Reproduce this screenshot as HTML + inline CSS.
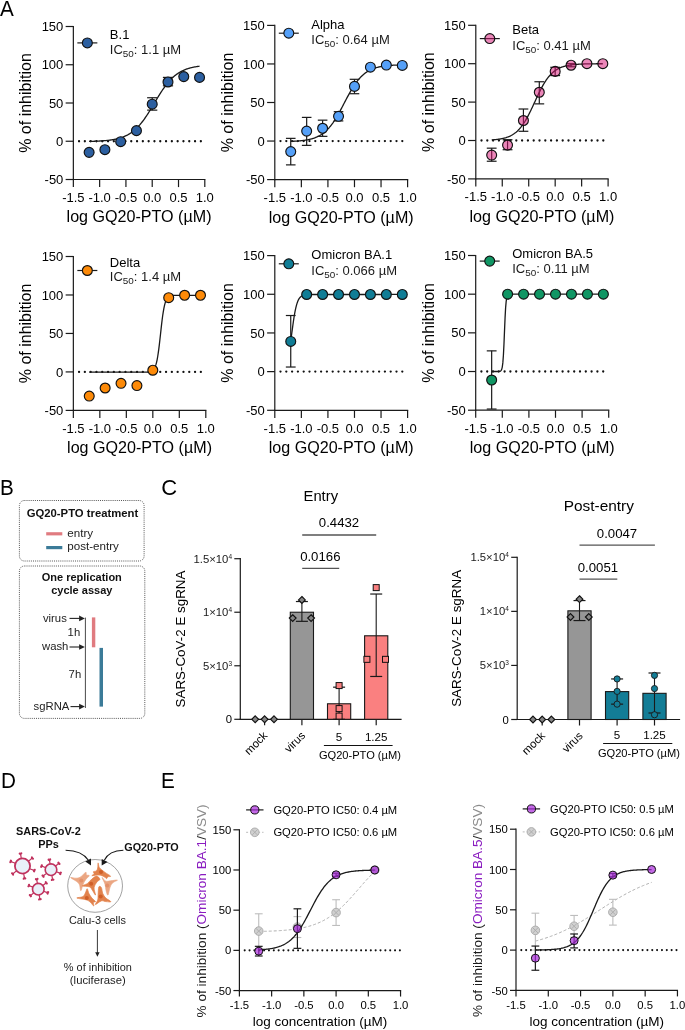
<!DOCTYPE html>
<html><head><meta charset="utf-8"><style>
html,body{margin:0;padding:0;background:#fff;}
svg{display:block;font-family:"Liberation Sans", sans-serif;will-change:transform;}
</style></head><body>
<svg width="685" height="1030" viewBox="0 0 685 1030">
<rect width="685" height="1030" fill="#fff"/>
<text x="0" y="0" font-size="22" transform="translate(0.00 15.50) scale(0.94 1)" fill="#000">A</text>
<line x1="73.35" y1="25.90" x2="73.35" y2="180.10" stroke="#1a1a1a" stroke-width="1.2" />
<line x1="72.75" y1="179.50" x2="205.40" y2="179.50" stroke="#1a1a1a" stroke-width="1.2" />
<line x1="65.65" y1="26.50" x2="73.35" y2="26.50" stroke="#1a1a1a" stroke-width="1.2" />
<text x="63.35" y="31.10" font-size="13.0" text-anchor="end" >150</text>
<line x1="65.65" y1="64.75" x2="73.35" y2="64.75" stroke="#1a1a1a" stroke-width="1.2" />
<text x="63.35" y="69.35" font-size="13.0" text-anchor="end" >100</text>
<line x1="65.65" y1="103.00" x2="73.35" y2="103.00" stroke="#1a1a1a" stroke-width="1.2" />
<text x="63.35" y="107.60" font-size="13.0" text-anchor="end" >50</text>
<line x1="65.65" y1="141.25" x2="73.35" y2="141.25" stroke="#1a1a1a" stroke-width="1.2" />
<text x="63.35" y="145.85" font-size="13.0" text-anchor="end" >0</text>
<line x1="65.65" y1="179.50" x2="73.35" y2="179.50" stroke="#1a1a1a" stroke-width="1.2" />
<text x="63.35" y="184.10" font-size="13.0" text-anchor="end" >-50</text>
<line x1="73.35" y1="179.50" x2="73.35" y2="187.10" stroke="#1a1a1a" stroke-width="1.2" />
<text x="73.35" y="202.00" font-size="13.0" text-anchor="middle" >-1.5</text>
<line x1="99.64" y1="179.50" x2="99.64" y2="187.10" stroke="#1a1a1a" stroke-width="1.2" />
<text x="99.64" y="202.00" font-size="13.0" text-anchor="middle" >-1.0</text>
<line x1="125.93" y1="179.50" x2="125.93" y2="187.10" stroke="#1a1a1a" stroke-width="1.2" />
<text x="125.93" y="202.00" font-size="13.0" text-anchor="middle" >-0.5</text>
<line x1="152.22" y1="179.50" x2="152.22" y2="187.10" stroke="#1a1a1a" stroke-width="1.2" />
<text x="152.22" y="202.00" font-size="13.0" text-anchor="middle" >0.0</text>
<line x1="178.51" y1="179.50" x2="178.51" y2="187.10" stroke="#1a1a1a" stroke-width="1.2" />
<text x="178.51" y="202.00" font-size="13.0" text-anchor="middle" >0.5</text>
<line x1="204.80" y1="179.50" x2="204.80" y2="187.10" stroke="#1a1a1a" stroke-width="1.2" />
<text x="204.80" y="202.00" font-size="13.0" text-anchor="middle" >1.0</text>
<text x="31.35" y="103.00" font-size="16.0" text-anchor="middle" transform="rotate(-90 31.35 103.00)" >% of inhibition</text>
<text x="139.07" y="222.40" font-size="16.1" text-anchor="middle" >log GQ20-PTO (&#181;M)</text>
<line x1="79.05" y1="141.25" x2="202.17" y2="141.25" stroke="#111" stroke-width="2.3" stroke-linecap="round" stroke-dasharray="0 5.8"/>
<polyline points="89.12,141.40 89.68,141.38 90.23,141.37 90.78,141.36 91.33,141.34 91.88,141.33 92.44,141.31 92.99,141.29 93.54,141.28 94.09,141.26 94.64,141.24 95.20,141.22 95.75,141.20 96.30,141.18 96.85,141.15 97.41,141.13 97.96,141.10 98.51,141.08 99.06,141.05 99.61,141.02 100.17,140.99 100.72,140.95 101.27,140.92 101.82,140.88 102.37,140.85 102.93,140.81 103.48,140.77 104.03,140.72 104.58,140.68 105.13,140.63 105.69,140.58 106.24,140.53 106.79,140.47 107.34,140.41 107.90,140.35 108.45,140.29 109.00,140.23 109.55,140.16 110.10,140.08 110.66,140.01 111.21,139.93 111.76,139.84 112.31,139.76 112.86,139.67 113.42,139.57 113.97,139.47 114.52,139.37 115.07,139.26 115.62,139.14 116.18,139.02 116.73,138.90 117.28,138.76 117.83,138.63 118.38,138.48 118.94,138.33 119.49,138.18 120.04,138.01 120.59,137.84 121.15,137.66 121.70,137.48 122.25,137.28 122.80,137.08 123.35,136.86 123.91,136.64 124.46,136.41 125.01,136.17 125.56,135.92 126.11,135.66 126.67,135.39 127.22,135.10 127.77,134.81 128.32,134.50 128.87,134.18 129.43,133.85 129.98,133.50 130.53,133.14 131.08,132.77 131.63,132.38 132.19,131.98 132.74,131.56 133.29,131.13 133.84,130.69 134.40,130.22 134.95,129.74 135.50,129.25 136.05,128.74 136.60,128.21 137.16,127.67 137.71,127.10 138.26,126.53 138.81,125.93 139.36,125.32 139.92,124.69 140.47,124.04 141.02,123.37 141.57,122.69 142.12,121.99 142.68,121.27 143.23,120.54 143.78,119.79 144.33,119.03 144.89,118.25 145.44,117.46 145.99,116.65 146.54,115.82 147.09,114.99 147.65,114.14 148.20,113.28 148.75,112.41 149.30,111.53 149.85,110.64 150.41,109.74 150.96,108.83 151.51,107.92 152.06,107.00 152.61,106.08 153.17,105.15 153.72,104.23 154.27,103.30 154.82,102.37 155.37,101.44 155.93,100.51 156.48,99.59 157.03,98.67 157.58,97.76 158.14,96.85 158.69,95.95 159.24,95.06 159.79,94.18 160.34,93.30 160.90,92.44 161.45,91.59 162.00,90.75 162.55,89.93 163.10,89.11 163.66,88.32 164.21,87.54 164.76,86.77 165.31,86.02 165.86,85.28 166.42,84.56 166.97,83.86 167.52,83.17 168.07,82.51 168.62,81.85 169.18,81.22 169.73,80.60 170.28,80.00 170.83,79.42 171.39,78.86 171.94,78.31 172.49,77.78 173.04,77.26 173.59,76.77 174.15,76.28 174.70,75.82 175.25,75.37 175.80,74.94 176.35,74.52 176.91,74.11 177.46,73.72 178.01,73.35 178.56,72.98 179.11,72.64 179.67,72.30 180.22,71.98 180.77,71.67 181.32,71.37 181.88,71.09 182.43,70.81 182.98,70.55 183.53,70.29 184.08,70.05 184.64,69.82 185.19,69.59 185.74,69.38 186.29,69.17 186.84,68.98 187.40,68.79 187.95,68.61 188.50,68.44 189.05,68.27 189.60,68.11 190.16,67.96 190.71,67.82 191.26,67.68 191.81,67.55 192.36,67.42 192.92,67.30 193.47,67.18 194.02,67.07 194.57,66.97 195.13,66.87 195.68,66.77 196.23,66.68 196.78,66.59 197.33,66.50 197.89,66.42 198.44,66.35 198.99,66.27 199.54,66.21" fill="none" stroke="#1a1a1a" stroke-width="1.3"/>
<line x1="152.22" y1="97.74" x2="152.22" y2="110.13" stroke="#1a1a1a" stroke-width="1.2" />
<line x1="147.12" y1="97.74" x2="157.32" y2="97.74" stroke="#1a1a1a" stroke-width="1.2" />
<line x1="147.12" y1="110.13" x2="157.32" y2="110.13" stroke="#1a1a1a" stroke-width="1.2" />
<line x1="167.99" y1="77.39" x2="167.99" y2="85.81" stroke="#1a1a1a" stroke-width="1.2" />
<line x1="162.89" y1="77.39" x2="173.09" y2="77.39" stroke="#1a1a1a" stroke-width="1.2" />
<line x1="162.89" y1="85.81" x2="173.09" y2="85.81" stroke="#1a1a1a" stroke-width="1.2" />
<circle cx="89.12" cy="152.36" r="4.95" fill="#2c5fa0" stroke="#111" stroke-width="1.15"/>
<circle cx="104.90" cy="149.68" r="4.95" fill="#2c5fa0" stroke="#111" stroke-width="1.15"/>
<circle cx="120.67" cy="141.65" r="4.95" fill="#2c5fa0" stroke="#111" stroke-width="1.15"/>
<circle cx="136.45" cy="130.63" r="4.95" fill="#2c5fa0" stroke="#111" stroke-width="1.15"/>
<circle cx="152.22" cy="104.17" r="4.95" fill="#2c5fa0" stroke="#111" stroke-width="1.15"/>
<circle cx="167.99" cy="81.98" r="4.95" fill="#2c5fa0" stroke="#111" stroke-width="1.15"/>
<circle cx="183.77" cy="76.62" r="4.95" fill="#2c5fa0" stroke="#111" stroke-width="1.15"/>
<circle cx="199.54" cy="77.39" r="4.95" fill="#2c5fa0" stroke="#111" stroke-width="1.15"/>
<line x1="77.35" y1="42.90" x2="97.35" y2="42.90" stroke="#1a1a1a" stroke-width="1.2" />
<circle cx="87.35" cy="42.90" r="4.95" fill="#2c5fa0" stroke="#111" stroke-width="1.15"/>
<text x="109.85" y="38.60" font-size="13" text-anchor="start" >B.1</text>
<text x="109.85" y="53.90" font-size="13" fill="#1a1a1a">IC<tspan font-size="9.9" dy="3.0">50</tspan><tspan dy="-3.0">: 1.1 &#181;M</tspan></text>
<line x1="274.80" y1="24.80" x2="274.80" y2="180.20" stroke="#1a1a1a" stroke-width="1.2" />
<line x1="274.20" y1="179.60" x2="408.20" y2="179.60" stroke="#1a1a1a" stroke-width="1.2" />
<line x1="267.10" y1="25.40" x2="274.80" y2="25.40" stroke="#1a1a1a" stroke-width="1.2" />
<text x="264.80" y="30.00" font-size="13.0" text-anchor="end" >150</text>
<line x1="267.10" y1="63.95" x2="274.80" y2="63.95" stroke="#1a1a1a" stroke-width="1.2" />
<text x="264.80" y="68.55" font-size="13.0" text-anchor="end" >100</text>
<line x1="267.10" y1="102.50" x2="274.80" y2="102.50" stroke="#1a1a1a" stroke-width="1.2" />
<text x="264.80" y="107.10" font-size="13.0" text-anchor="end" >50</text>
<line x1="267.10" y1="141.05" x2="274.80" y2="141.05" stroke="#1a1a1a" stroke-width="1.2" />
<text x="264.80" y="145.65" font-size="13.0" text-anchor="end" >0</text>
<line x1="267.10" y1="179.60" x2="274.80" y2="179.60" stroke="#1a1a1a" stroke-width="1.2" />
<text x="264.80" y="184.20" font-size="13.0" text-anchor="end" >-50</text>
<line x1="274.80" y1="179.60" x2="274.80" y2="187.20" stroke="#1a1a1a" stroke-width="1.2" />
<text x="274.80" y="202.10" font-size="13.0" text-anchor="middle" >-1.5</text>
<line x1="301.36" y1="179.60" x2="301.36" y2="187.20" stroke="#1a1a1a" stroke-width="1.2" />
<text x="301.36" y="202.10" font-size="13.0" text-anchor="middle" >-1.0</text>
<line x1="327.92" y1="179.60" x2="327.92" y2="187.20" stroke="#1a1a1a" stroke-width="1.2" />
<text x="327.92" y="202.10" font-size="13.0" text-anchor="middle" >-0.5</text>
<line x1="354.48" y1="179.60" x2="354.48" y2="187.20" stroke="#1a1a1a" stroke-width="1.2" />
<text x="354.48" y="202.10" font-size="13.0" text-anchor="middle" >0.0</text>
<line x1="381.04" y1="179.60" x2="381.04" y2="187.20" stroke="#1a1a1a" stroke-width="1.2" />
<text x="381.04" y="202.10" font-size="13.0" text-anchor="middle" >0.5</text>
<line x1="407.60" y1="179.60" x2="407.60" y2="187.20" stroke="#1a1a1a" stroke-width="1.2" />
<text x="407.60" y="202.10" font-size="13.0" text-anchor="middle" >1.0</text>
<text x="232.80" y="102.50" font-size="16.0" text-anchor="middle" transform="rotate(-90 232.80 102.50)" >% of inhibition</text>
<text x="341.20" y="222.50" font-size="16.1" text-anchor="middle" >log GQ20-PTO (&#181;M)</text>
<line x1="280.50" y1="141.05" x2="404.94" y2="141.05" stroke="#111" stroke-width="2.3" stroke-linecap="round" stroke-dasharray="0 5.8"/>
<polyline points="290.74,141.38 291.29,141.36 291.85,141.33 292.41,141.31 292.97,141.29 293.52,141.26 294.08,141.23 294.64,141.20 295.20,141.17 295.76,141.14 296.31,141.10 296.87,141.07 297.43,141.03 297.99,140.99 298.54,140.94 299.10,140.90 299.66,140.85 300.22,140.80 300.78,140.74 301.33,140.69 301.89,140.63 302.45,140.57 303.01,140.50 303.56,140.43 304.12,140.35 304.68,140.28 305.24,140.19 305.80,140.11 306.35,140.01 306.91,139.92 307.47,139.81 308.03,139.71 308.58,139.59 309.14,139.47 309.70,139.35 310.26,139.21 310.82,139.08 311.37,138.93 311.93,138.77 312.49,138.61 313.05,138.44 313.60,138.26 314.16,138.07 314.72,137.87 315.28,137.66 315.84,137.43 316.39,137.20 316.95,136.96 317.51,136.70 318.07,136.43 318.62,136.15 319.18,135.86 319.74,135.55 320.30,135.22 320.86,134.88 321.41,134.53 321.97,134.15 322.53,133.76 323.09,133.36 323.64,132.93 324.20,132.49 324.76,132.03 325.32,131.54 325.87,131.04 326.43,130.52 326.99,129.97 327.55,129.41 328.11,128.82 328.66,128.21 329.22,127.58 329.78,126.92 330.34,126.25 330.89,125.55 331.45,124.82 332.01,124.08 332.57,123.31 333.13,122.52 333.68,121.70 334.24,120.87 334.80,120.01 335.36,119.13 335.91,118.23 336.47,117.31 337.03,116.38 337.59,115.42 338.15,114.45 338.70,113.46 339.26,112.46 339.82,111.44 340.38,110.41 340.93,109.37 341.49,108.32 342.05,107.27 342.61,106.21 343.17,105.14 343.72,104.07 344.28,103.00 344.84,101.92 345.40,100.86 345.95,99.79 346.51,98.73 347.07,97.67 347.63,96.63 348.19,95.59 348.74,94.57 349.30,93.56 349.86,92.56 350.42,91.58 350.97,90.61 351.53,89.66 352.09,88.73 352.65,87.82 353.21,86.93 353.76,86.06 354.32,85.21 354.88,84.38 355.44,83.58 355.99,82.80 356.55,82.04 357.11,81.30 357.67,80.58 358.22,79.89 358.78,79.22 359.34,78.58 359.90,77.95 360.46,77.35 361.01,76.77 361.57,76.22 362.13,75.68 362.69,75.17 363.24,74.67 363.80,74.20 364.36,73.74 364.92,73.30 365.48,72.89 366.03,72.49 366.59,72.10 367.15,71.74 367.71,71.39 368.26,71.05 368.82,70.73 369.38,70.43 369.94,70.14 370.50,69.86 371.05,69.60 371.61,69.35 372.17,69.11 372.73,68.88 373.28,68.66 373.84,68.46 374.40,68.26 374.96,68.07 375.52,67.90 376.07,67.73 376.63,67.57 377.19,67.42 377.75,67.27 378.30,67.13 378.86,67.00 379.42,66.88 379.98,66.76 380.54,66.65 381.09,66.55 381.65,66.45 382.21,66.35 382.77,66.26 383.32,66.18 383.88,66.09 384.44,66.02 385.00,65.94 385.56,65.88 386.11,65.81 386.67,65.75 387.23,65.69 387.79,65.63 388.34,65.58 388.90,65.53 389.46,65.48 390.02,65.44 390.58,65.40 391.13,65.36 391.69,65.32 392.25,65.28 392.81,65.25 393.36,65.22 393.92,65.19 394.48,65.16 395.04,65.13 395.59,65.11 396.15,65.08 396.71,65.06 397.27,65.04 397.83,65.01 398.38,65.00 398.94,64.98 399.50,64.96 400.06,64.94 400.61,64.93 401.17,64.91 401.73,64.90 402.29,64.88" fill="none" stroke="#1a1a1a" stroke-width="1.3"/>
<line x1="290.74" y1="138.36" x2="290.74" y2="164.88" stroke="#1a1a1a" stroke-width="1.2" />
<line x1="285.94" y1="138.36" x2="295.54" y2="138.36" stroke="#1a1a1a" stroke-width="1.2" />
<line x1="285.94" y1="164.88" x2="295.54" y2="164.88" stroke="#1a1a1a" stroke-width="1.2" />
<line x1="306.67" y1="117.39" x2="306.67" y2="145.37" stroke="#1a1a1a" stroke-width="1.2" />
<line x1="301.87" y1="117.39" x2="311.47" y2="117.39" stroke="#1a1a1a" stroke-width="1.2" />
<line x1="301.87" y1="145.37" x2="311.47" y2="145.37" stroke="#1a1a1a" stroke-width="1.2" />
<line x1="322.61" y1="120.16" x2="322.61" y2="136.35" stroke="#1a1a1a" stroke-width="1.2" />
<line x1="317.81" y1="120.16" x2="327.41" y2="120.16" stroke="#1a1a1a" stroke-width="1.2" />
<line x1="317.81" y1="136.35" x2="327.41" y2="136.35" stroke="#1a1a1a" stroke-width="1.2" />
<line x1="338.54" y1="111.68" x2="338.54" y2="120.93" stroke="#1a1a1a" stroke-width="1.2" />
<line x1="333.74" y1="111.68" x2="343.34" y2="111.68" stroke="#1a1a1a" stroke-width="1.2" />
<line x1="333.74" y1="120.93" x2="343.34" y2="120.93" stroke="#1a1a1a" stroke-width="1.2" />
<line x1="354.48" y1="79.30" x2="354.48" y2="93.72" stroke="#1a1a1a" stroke-width="1.2" />
<line x1="349.68" y1="79.30" x2="359.28" y2="79.30" stroke="#1a1a1a" stroke-width="1.2" />
<line x1="349.68" y1="93.72" x2="359.28" y2="93.72" stroke="#1a1a1a" stroke-width="1.2" />
<circle cx="290.74" cy="151.54" r="4.95" fill="#55a0f8" stroke="#111" stroke-width="1.15"/>
<circle cx="306.67" cy="131.11" r="4.95" fill="#55a0f8" stroke="#111" stroke-width="1.15"/>
<circle cx="322.61" cy="128.26" r="4.95" fill="#55a0f8" stroke="#111" stroke-width="1.15"/>
<circle cx="338.54" cy="116.31" r="4.95" fill="#55a0f8" stroke="#111" stroke-width="1.15"/>
<circle cx="354.48" cy="86.39" r="4.95" fill="#55a0f8" stroke="#111" stroke-width="1.15"/>
<circle cx="370.42" cy="67.19" r="4.95" fill="#55a0f8" stroke="#111" stroke-width="1.15"/>
<circle cx="386.35" cy="65.04" r="4.95" fill="#55a0f8" stroke="#111" stroke-width="1.15"/>
<circle cx="402.29" cy="65.42" r="4.95" fill="#55a0f8" stroke="#111" stroke-width="1.15"/>
<line x1="278.80" y1="33.20" x2="298.80" y2="33.20" stroke="#1a1a1a" stroke-width="1.2" />
<circle cx="288.80" cy="33.20" r="4.95" fill="#55a0f8" stroke="#111" stroke-width="1.15"/>
<text x="311.30" y="28.80" font-size="13" text-anchor="start" >Alpha</text>
<text x="311.30" y="43.60" font-size="13" fill="#1a1a1a">IC<tspan font-size="9.9" dy="3.0">50</tspan><tspan dy="-3.0">: 0.64 &#181;M</tspan></text>
<line x1="475.80" y1="24.70" x2="475.80" y2="179.50" stroke="#1a1a1a" stroke-width="1.2" />
<line x1="475.20" y1="178.90" x2="608.70" y2="178.90" stroke="#1a1a1a" stroke-width="1.2" />
<line x1="468.10" y1="25.30" x2="475.80" y2="25.30" stroke="#1a1a1a" stroke-width="1.2" />
<text x="465.80" y="29.90" font-size="13.0" text-anchor="end" >150</text>
<line x1="468.10" y1="63.70" x2="475.80" y2="63.70" stroke="#1a1a1a" stroke-width="1.2" />
<text x="465.80" y="68.30" font-size="13.0" text-anchor="end" >100</text>
<line x1="468.10" y1="102.10" x2="475.80" y2="102.10" stroke="#1a1a1a" stroke-width="1.2" />
<text x="465.80" y="106.70" font-size="13.0" text-anchor="end" >50</text>
<line x1="468.10" y1="140.50" x2="475.80" y2="140.50" stroke="#1a1a1a" stroke-width="1.2" />
<text x="465.80" y="145.10" font-size="13.0" text-anchor="end" >0</text>
<line x1="468.10" y1="178.90" x2="475.80" y2="178.90" stroke="#1a1a1a" stroke-width="1.2" />
<text x="465.80" y="183.50" font-size="13.0" text-anchor="end" >-50</text>
<line x1="475.80" y1="178.90" x2="475.80" y2="186.50" stroke="#1a1a1a" stroke-width="1.2" />
<text x="475.80" y="201.40" font-size="13.0" text-anchor="middle" >-1.5</text>
<line x1="502.26" y1="178.90" x2="502.26" y2="186.50" stroke="#1a1a1a" stroke-width="1.2" />
<text x="502.26" y="201.40" font-size="13.0" text-anchor="middle" >-1.0</text>
<line x1="528.72" y1="178.90" x2="528.72" y2="186.50" stroke="#1a1a1a" stroke-width="1.2" />
<text x="528.72" y="201.40" font-size="13.0" text-anchor="middle" >-0.5</text>
<line x1="555.18" y1="178.90" x2="555.18" y2="186.50" stroke="#1a1a1a" stroke-width="1.2" />
<text x="555.18" y="201.40" font-size="13.0" text-anchor="middle" >0.0</text>
<line x1="581.64" y1="178.90" x2="581.64" y2="186.50" stroke="#1a1a1a" stroke-width="1.2" />
<text x="581.64" y="201.40" font-size="13.0" text-anchor="middle" >0.5</text>
<line x1="608.10" y1="178.90" x2="608.10" y2="186.50" stroke="#1a1a1a" stroke-width="1.2" />
<text x="608.10" y="201.40" font-size="13.0" text-anchor="middle" >1.0</text>
<text x="433.80" y="102.10" font-size="16.0" text-anchor="middle" transform="rotate(-90 433.80 102.10)" >% of inhibition</text>
<text x="541.95" y="221.80" font-size="16.1" text-anchor="middle" >log GQ20-PTO (&#181;M)</text>
<line x1="481.50" y1="140.50" x2="605.45" y2="140.50" stroke="#111" stroke-width="2.3" stroke-linecap="round" stroke-dasharray="0 5.8"/>
<polyline points="491.68,139.91 492.23,139.88 492.79,139.84 493.34,139.79 493.90,139.75 494.45,139.70 495.01,139.65 495.57,139.59 496.12,139.54 496.68,139.47 497.23,139.41 497.79,139.34 498.34,139.26 498.90,139.18 499.46,139.10 500.01,139.01 500.57,138.92 501.12,138.82 501.68,138.71 502.23,138.60 502.79,138.48 503.34,138.35 503.90,138.21 504.46,138.07 505.01,137.92 505.57,137.76 506.12,137.59 506.68,137.40 507.23,137.21 507.79,137.01 508.35,136.79 508.90,136.56 509.46,136.32 510.01,136.07 510.57,135.80 511.12,135.51 511.68,135.21 512.24,134.89 512.79,134.56 513.35,134.20 513.90,133.83 514.46,133.44 515.01,133.02 515.57,132.59 516.13,132.13 516.68,131.65 517.24,131.15 517.79,130.62 518.35,130.06 518.90,129.48 519.46,128.88 520.01,128.24 520.57,127.58 521.13,126.89 521.68,126.17 522.24,125.43 522.79,124.65 523.35,123.85 523.90,123.01 524.46,122.15 525.02,121.26 525.57,120.34 526.13,119.39 526.68,118.41 527.24,117.41 527.79,116.38 528.35,115.33 528.91,114.25 529.46,113.16 530.02,112.04 530.57,110.91 531.13,109.75 531.68,108.59 532.24,107.41 532.79,106.22 533.35,105.03 533.91,103.82 534.46,102.62 535.02,101.41 535.57,100.20 536.13,99.00 536.68,97.81 537.24,96.62 537.80,95.44 538.35,94.28 538.91,93.13 539.46,92.00 540.02,90.88 540.57,89.79 541.13,88.72 541.69,87.67 542.24,86.65 542.80,85.65 543.35,84.68 543.91,83.73 544.46,82.81 545.02,81.93 545.58,81.07 546.13,80.24 546.69,79.44 547.24,78.66 547.80,77.92 548.35,77.21 548.91,76.52 549.46,75.86 550.02,75.23 550.58,74.63 551.13,74.06 551.69,73.50 552.24,72.98 552.80,72.48 553.35,72.00 553.91,71.55 554.47,71.12 555.02,70.71 555.58,70.32 556.13,69.94 556.69,69.59 557.24,69.26 557.80,68.94 558.36,68.65 558.91,68.36 559.47,68.10 560.02,67.84 560.58,67.60 561.13,67.38 561.69,67.16 562.24,66.96 562.80,66.77 563.36,66.59 563.91,66.42 564.47,66.26 565.02,66.11 565.58,65.97 566.13,65.83 566.69,65.71 567.25,65.59 567.80,65.47 568.36,65.37 568.91,65.27 569.47,65.17 570.02,65.09 570.58,65.00 571.14,64.93 571.69,64.85 572.25,64.78 572.80,64.72 573.36,64.66 573.91,64.60 574.47,64.54 575.02,64.49 575.58,64.45 576.14,64.40 576.69,64.36 577.25,64.32 577.80,64.28 578.36,64.25 578.91,64.21 579.47,64.18 580.03,64.15 580.58,64.13 581.14,64.10 581.69,64.08 582.25,64.05 582.80,64.03 583.36,64.01 583.92,63.99 584.47,63.97 585.03,63.96 585.58,63.94 586.14,63.93 586.69,63.91 587.25,63.90 587.81,63.89 588.36,63.88 588.92,63.87 589.47,63.86 590.03,63.85 590.58,63.84 591.14,63.83 591.69,63.82 592.25,63.81 592.81,63.81 593.36,63.80 593.92,63.79 594.47,63.79 595.03,63.78 595.58,63.78 596.14,63.77 596.70,63.77 597.25,63.76 597.81,63.76 598.36,63.76 598.92,63.75 599.47,63.75 600.03,63.75 600.59,63.74 601.14,63.74 601.70,63.74 602.25,63.74 602.81,63.73" fill="none" stroke="#1a1a1a" stroke-width="1.3"/>
<line x1="491.68" y1="148.18" x2="491.68" y2="161.24" stroke="#1a1a1a" stroke-width="1.2" />
<line x1="486.78" y1="148.18" x2="496.58" y2="148.18" stroke="#1a1a1a" stroke-width="1.2" />
<line x1="486.78" y1="161.24" x2="496.58" y2="161.24" stroke="#1a1a1a" stroke-width="1.2" />
<line x1="507.55" y1="139.73" x2="507.55" y2="149.72" stroke="#1a1a1a" stroke-width="1.2" />
<line x1="502.65" y1="139.73" x2="512.45" y2="139.73" stroke="#1a1a1a" stroke-width="1.2" />
<line x1="502.65" y1="149.72" x2="512.45" y2="149.72" stroke="#1a1a1a" stroke-width="1.2" />
<line x1="523.43" y1="109.01" x2="523.43" y2="131.28" stroke="#1a1a1a" stroke-width="1.2" />
<line x1="518.53" y1="109.01" x2="528.33" y2="109.01" stroke="#1a1a1a" stroke-width="1.2" />
<line x1="518.53" y1="131.28" x2="528.33" y2="131.28" stroke="#1a1a1a" stroke-width="1.2" />
<line x1="539.30" y1="81.75" x2="539.30" y2="103.87" stroke="#1a1a1a" stroke-width="1.2" />
<line x1="534.40" y1="81.75" x2="544.20" y2="81.75" stroke="#1a1a1a" stroke-width="1.2" />
<line x1="534.40" y1="103.87" x2="544.20" y2="103.87" stroke="#1a1a1a" stroke-width="1.2" />
<line x1="555.18" y1="67.31" x2="555.18" y2="75.60" stroke="#1a1a1a" stroke-width="1.2" />
<line x1="550.28" y1="67.31" x2="560.08" y2="67.31" stroke="#1a1a1a" stroke-width="1.2" />
<line x1="550.28" y1="75.60" x2="560.08" y2="75.60" stroke="#1a1a1a" stroke-width="1.2" />
<line x1="571.06" y1="63.70" x2="571.06" y2="66.77" stroke="#1a1a1a" stroke-width="1.2" />
<line x1="566.16" y1="63.70" x2="575.96" y2="63.70" stroke="#1a1a1a" stroke-width="1.2" />
<line x1="566.16" y1="66.77" x2="575.96" y2="66.77" stroke="#1a1a1a" stroke-width="1.2" />
<circle cx="491.68" cy="155.09" r="4.95" fill="rgb(216,20,118)" fill-opacity="0.51" stroke="#111" stroke-width="1.15"/>
<circle cx="507.55" cy="145.11" r="4.95" fill="rgb(216,20,118)" fill-opacity="0.51" stroke="#111" stroke-width="1.15"/>
<circle cx="523.43" cy="120.53" r="4.95" fill="rgb(216,20,118)" fill-opacity="0.51" stroke="#111" stroke-width="1.15"/>
<circle cx="539.30" cy="92.27" r="4.95" fill="rgb(216,20,118)" fill-opacity="0.51" stroke="#111" stroke-width="1.15"/>
<circle cx="555.18" cy="71.38" r="4.95" fill="rgb(216,20,118)" fill-opacity="0.51" stroke="#111" stroke-width="1.15"/>
<circle cx="571.06" cy="65.24" r="4.95" fill="rgb(216,20,118)" fill-opacity="0.51" stroke="#111" stroke-width="1.15"/>
<circle cx="586.93" cy="63.70" r="4.95" fill="rgb(216,20,118)" fill-opacity="0.51" stroke="#111" stroke-width="1.15"/>
<circle cx="602.81" cy="63.70" r="4.95" fill="rgb(216,20,118)" fill-opacity="0.51" stroke="#111" stroke-width="1.15"/>
<line x1="479.80" y1="38.60" x2="499.80" y2="38.60" stroke="#1a1a1a" stroke-width="1.2" />
<circle cx="489.80" cy="38.60" r="4.95" fill="rgb(216,20,118)" fill-opacity="0.51" stroke="#111" stroke-width="1.15"/>
<text x="512.30" y="34.40" font-size="13" text-anchor="start" >Beta</text>
<text x="512.30" y="49.70" font-size="13" fill="#1a1a1a">IC<tspan font-size="9.9" dy="3.0">50</tspan><tspan dy="-3.0">: 0.41 &#181;M</tspan></text>
<line x1="73.35" y1="255.90" x2="73.35" y2="411.00" stroke="#1a1a1a" stroke-width="1.2" />
<line x1="72.75" y1="410.40" x2="206.40" y2="410.40" stroke="#1a1a1a" stroke-width="1.2" />
<line x1="65.65" y1="256.50" x2="73.35" y2="256.50" stroke="#1a1a1a" stroke-width="1.2" />
<text x="63.35" y="261.10" font-size="13.0" text-anchor="end" >150</text>
<line x1="65.65" y1="294.98" x2="73.35" y2="294.98" stroke="#1a1a1a" stroke-width="1.2" />
<text x="63.35" y="299.58" font-size="13.0" text-anchor="end" >100</text>
<line x1="65.65" y1="333.45" x2="73.35" y2="333.45" stroke="#1a1a1a" stroke-width="1.2" />
<text x="63.35" y="338.05" font-size="13.0" text-anchor="end" >50</text>
<line x1="65.65" y1="371.92" x2="73.35" y2="371.92" stroke="#1a1a1a" stroke-width="1.2" />
<text x="63.35" y="376.52" font-size="13.0" text-anchor="end" >0</text>
<line x1="65.65" y1="410.40" x2="73.35" y2="410.40" stroke="#1a1a1a" stroke-width="1.2" />
<text x="63.35" y="415.00" font-size="13.0" text-anchor="end" >-50</text>
<line x1="73.35" y1="410.40" x2="73.35" y2="418.00" stroke="#1a1a1a" stroke-width="1.2" />
<text x="73.35" y="432.90" font-size="13.0" text-anchor="middle" >-1.5</text>
<line x1="99.84" y1="410.40" x2="99.84" y2="418.00" stroke="#1a1a1a" stroke-width="1.2" />
<text x="99.84" y="432.90" font-size="13.0" text-anchor="middle" >-1.0</text>
<line x1="126.33" y1="410.40" x2="126.33" y2="418.00" stroke="#1a1a1a" stroke-width="1.2" />
<text x="126.33" y="432.90" font-size="13.0" text-anchor="middle" >-0.5</text>
<line x1="152.82" y1="410.40" x2="152.82" y2="418.00" stroke="#1a1a1a" stroke-width="1.2" />
<text x="152.82" y="432.90" font-size="13.0" text-anchor="middle" >0.0</text>
<line x1="179.31" y1="410.40" x2="179.31" y2="418.00" stroke="#1a1a1a" stroke-width="1.2" />
<text x="179.31" y="432.90" font-size="13.0" text-anchor="middle" >0.5</text>
<line x1="205.80" y1="410.40" x2="205.80" y2="418.00" stroke="#1a1a1a" stroke-width="1.2" />
<text x="205.80" y="432.90" font-size="13.0" text-anchor="middle" >1.0</text>
<text x="31.35" y="333.45" font-size="16.0" text-anchor="middle" transform="rotate(-90 31.35 333.45)" >% of inhibition</text>
<text x="139.57" y="453.30" font-size="16.1" text-anchor="middle" >log GQ20-PTO (&#181;M)</text>
<line x1="79.05" y1="371.92" x2="203.15" y2="371.92" stroke="#111" stroke-width="2.3" stroke-linecap="round" stroke-dasharray="0 5.8"/>
<polyline points="89.24,372.22 89.80,372.22 90.36,372.22 90.91,372.22 91.47,372.22 92.03,372.22 92.58,372.22 93.14,372.22 93.69,372.22 94.25,372.22 94.81,372.22 95.36,372.22 95.92,372.22 96.48,372.22 97.03,372.22 97.59,372.22 98.14,372.22 98.70,372.22 99.26,372.22 99.81,372.22 100.37,372.22 100.93,372.22 101.48,372.22 102.04,372.22 102.59,372.22 103.15,372.22 103.71,372.22 104.26,372.22 104.82,372.22 105.38,372.22 105.93,372.22 106.49,372.22 107.05,372.22 107.60,372.22 108.16,372.22 108.71,372.22 109.27,372.22 109.83,372.22 110.38,372.22 110.94,372.22 111.50,372.22 112.05,372.22 112.61,372.22 113.16,372.22 113.72,372.22 114.28,372.22 114.83,372.22 115.39,372.22 115.95,372.22 116.50,372.22 117.06,372.22 117.61,372.22 118.17,372.22 118.73,372.22 119.28,372.22 119.84,372.22 120.40,372.22 120.95,372.22 121.51,372.22 122.07,372.22 122.62,372.22 123.18,372.22 123.73,372.22 124.29,372.22 124.85,372.22 125.40,372.22 125.96,372.22 126.52,372.22 127.07,372.22 127.63,372.22 128.18,372.22 128.74,372.22 129.30,372.22 129.85,372.22 130.41,372.22 130.97,372.22 131.52,372.22 132.08,372.22 132.63,372.22 133.19,372.22 133.75,372.22 134.30,372.22 134.86,372.22 135.42,372.22 135.97,372.22 136.53,372.22 137.08,372.22 137.64,372.22 138.20,372.22 138.75,372.22 139.31,372.22 139.87,372.22 140.42,372.22 140.98,372.22 141.54,372.22 142.09,372.21 142.65,372.21 143.20,372.21 143.76,372.20 144.32,372.19 144.87,372.18 145.43,372.17 145.99,372.15 146.54,372.13 147.10,372.10 147.65,372.06 148.21,372.02 148.77,371.95 149.32,371.87 149.88,371.76 150.44,371.62 150.99,371.44 151.55,371.20 152.10,370.89 152.66,370.50 153.22,369.99 153.77,369.33 154.33,368.49 154.89,367.43 155.44,366.08 156.00,364.40 156.56,362.32 157.11,359.79 157.67,356.76 158.22,353.22 158.78,349.16 159.34,344.65 159.89,339.79 160.45,334.72 161.01,329.62 161.56,324.67 162.12,320.01 162.67,315.77 163.23,312.03 163.79,308.80 164.34,306.09 164.90,303.84 165.46,302.02 166.01,300.55 166.57,299.39 167.12,298.47 167.68,297.74 168.24,297.18 168.79,296.75 169.35,296.41 169.91,296.15 170.46,295.94 171.02,295.79 171.57,295.67 172.13,295.58 172.69,295.51 173.24,295.45 173.80,295.41 174.36,295.38 174.91,295.36 175.47,295.34 176.03,295.32 176.58,295.31 177.14,295.30 177.69,295.30 178.25,295.29 178.81,295.29 179.36,295.28 179.92,295.28 180.48,295.28 181.03,295.28 181.59,295.28 182.14,295.28 182.70,295.28 183.26,295.28 183.81,295.28 184.37,295.28 184.93,295.28 185.48,295.28 186.04,295.28 186.59,295.28 187.15,295.28 187.71,295.28 188.26,295.28 188.82,295.28 189.38,295.28 189.93,295.28 190.49,295.28 191.05,295.28 191.60,295.28 192.16,295.28 192.71,295.28 193.27,295.28 193.83,295.28 194.38,295.28 194.94,295.28 195.50,295.28 196.05,295.28 196.61,295.28 197.16,295.28 197.72,295.28 198.28,295.28 198.83,295.28 199.39,295.28 199.95,295.28 200.50,295.28" fill="none" stroke="#1a1a1a" stroke-width="1.3"/>
<circle cx="89.24" cy="396.08" r="4.95" fill="#fd8a08" stroke="#111" stroke-width="1.15"/>
<circle cx="105.14" cy="388.00" r="4.95" fill="#fd8a08" stroke="#111" stroke-width="1.15"/>
<circle cx="121.03" cy="383.31" r="4.95" fill="#fd8a08" stroke="#111" stroke-width="1.15"/>
<circle cx="136.93" cy="385.54" r="4.95" fill="#fd8a08" stroke="#111" stroke-width="1.15"/>
<circle cx="152.82" cy="370.22" r="4.95" fill="#fd8a08" stroke="#111" stroke-width="1.15"/>
<circle cx="168.71" cy="297.66" r="4.95" fill="#fd8a08" stroke="#111" stroke-width="1.15"/>
<circle cx="184.61" cy="295.28" r="4.95" fill="#fd8a08" stroke="#111" stroke-width="1.15"/>
<circle cx="200.50" cy="295.28" r="4.95" fill="#fd8a08" stroke="#111" stroke-width="1.15"/>
<line x1="77.35" y1="270.50" x2="97.35" y2="270.50" stroke="#1a1a1a" stroke-width="1.2" />
<circle cx="87.35" cy="270.50" r="4.95" fill="#fd8a08" stroke="#111" stroke-width="1.15"/>
<text x="109.85" y="266.60" font-size="13" text-anchor="start" >Delta</text>
<text x="109.85" y="281.10" font-size="13" fill="#1a1a1a">IC<tspan font-size="9.9" dy="3.0">50</tspan><tspan dy="-3.0">: 1.4 &#181;M</tspan></text>
<line x1="274.80" y1="255.00" x2="274.80" y2="410.90" stroke="#1a1a1a" stroke-width="1.2" />
<line x1="274.20" y1="410.30" x2="408.20" y2="410.30" stroke="#1a1a1a" stroke-width="1.2" />
<line x1="267.10" y1="255.60" x2="274.80" y2="255.60" stroke="#1a1a1a" stroke-width="1.2" />
<text x="264.80" y="260.20" font-size="13.0" text-anchor="end" >150</text>
<line x1="267.10" y1="294.27" x2="274.80" y2="294.27" stroke="#1a1a1a" stroke-width="1.2" />
<text x="264.80" y="298.88" font-size="13.0" text-anchor="end" >100</text>
<line x1="267.10" y1="332.95" x2="274.80" y2="332.95" stroke="#1a1a1a" stroke-width="1.2" />
<text x="264.80" y="337.55" font-size="13.0" text-anchor="end" >50</text>
<line x1="267.10" y1="371.62" x2="274.80" y2="371.62" stroke="#1a1a1a" stroke-width="1.2" />
<text x="264.80" y="376.23" font-size="13.0" text-anchor="end" >0</text>
<line x1="267.10" y1="410.30" x2="274.80" y2="410.30" stroke="#1a1a1a" stroke-width="1.2" />
<text x="264.80" y="414.90" font-size="13.0" text-anchor="end" >-50</text>
<line x1="274.80" y1="410.30" x2="274.80" y2="417.90" stroke="#1a1a1a" stroke-width="1.2" />
<text x="274.80" y="432.80" font-size="13.0" text-anchor="middle" >-1.5</text>
<line x1="301.36" y1="410.30" x2="301.36" y2="417.90" stroke="#1a1a1a" stroke-width="1.2" />
<text x="301.36" y="432.80" font-size="13.0" text-anchor="middle" >-1.0</text>
<line x1="327.92" y1="410.30" x2="327.92" y2="417.90" stroke="#1a1a1a" stroke-width="1.2" />
<text x="327.92" y="432.80" font-size="13.0" text-anchor="middle" >-0.5</text>
<line x1="354.48" y1="410.30" x2="354.48" y2="417.90" stroke="#1a1a1a" stroke-width="1.2" />
<text x="354.48" y="432.80" font-size="13.0" text-anchor="middle" >0.0</text>
<line x1="381.04" y1="410.30" x2="381.04" y2="417.90" stroke="#1a1a1a" stroke-width="1.2" />
<text x="381.04" y="432.80" font-size="13.0" text-anchor="middle" >0.5</text>
<line x1="407.60" y1="410.30" x2="407.60" y2="417.90" stroke="#1a1a1a" stroke-width="1.2" />
<text x="407.60" y="432.80" font-size="13.0" text-anchor="middle" >1.0</text>
<text x="232.80" y="332.95" font-size="16.0" text-anchor="middle" transform="rotate(-90 232.80 332.95)" >% of inhibition</text>
<text x="341.20" y="453.20" font-size="16.1" text-anchor="middle" >log GQ20-PTO (&#181;M)</text>
<line x1="280.50" y1="371.62" x2="404.94" y2="371.62" stroke="#111" stroke-width="2.3" stroke-linecap="round" stroke-dasharray="0 5.8"/>
<polyline points="290.74,341.05 291.29,336.94 291.85,332.75 292.41,328.56 292.97,324.48 293.52,320.60 294.08,316.97 294.64,313.67 295.20,310.70 295.76,308.09 296.31,305.81 296.87,303.87 297.43,302.21 297.99,300.82 298.54,299.67 299.10,298.71 299.66,297.92 300.22,297.27 300.78,296.74 301.33,296.31 301.89,295.95 302.45,295.67 303.01,295.44 303.56,295.25 304.12,295.10 304.68,294.98 305.24,294.88 305.80,294.80 306.35,294.74 306.91,294.69 307.47,294.65 308.03,294.61 308.58,294.59 309.14,294.56 309.70,294.55 310.26,294.53 310.82,294.52 311.37,294.51 311.93,294.51 312.49,294.50 313.05,294.49 313.60,294.49 314.16,294.49 314.72,294.49 315.28,294.48 315.84,294.48 316.39,294.48 316.95,294.48 317.51,294.48 318.07,294.48 318.62,294.48 319.18,294.48 319.74,294.48 320.30,294.48 320.86,294.48 321.41,294.48 321.97,294.48 322.53,294.48 323.09,294.48 323.64,294.48 324.20,294.48 324.76,294.48 325.32,294.48 325.87,294.48 326.43,294.48 326.99,294.48 327.55,294.48 328.11,294.48 328.66,294.48 329.22,294.48 329.78,294.48 330.34,294.48 330.89,294.48 331.45,294.48 332.01,294.48 332.57,294.48 333.13,294.48 333.68,294.48 334.24,294.48 334.80,294.48 335.36,294.48 335.91,294.48 336.47,294.48 337.03,294.48 337.59,294.48 338.15,294.48 338.70,294.48 339.26,294.48 339.82,294.48 340.38,294.48 340.93,294.48 341.49,294.48 342.05,294.48 342.61,294.48 343.17,294.48 343.72,294.48 344.28,294.48 344.84,294.48 345.40,294.48 345.95,294.48 346.51,294.48 347.07,294.48 347.63,294.48 348.19,294.48 348.74,294.48 349.30,294.48 349.86,294.48 350.42,294.48 350.97,294.48 351.53,294.48 352.09,294.48 352.65,294.48 353.21,294.48 353.76,294.48 354.32,294.48 354.88,294.48 355.44,294.48 355.99,294.48 356.55,294.48 357.11,294.48 357.67,294.48 358.22,294.48 358.78,294.48 359.34,294.48 359.90,294.48 360.46,294.48 361.01,294.48 361.57,294.48 362.13,294.48 362.69,294.48 363.24,294.48 363.80,294.48 364.36,294.48 364.92,294.48 365.48,294.48 366.03,294.48 366.59,294.48 367.15,294.48 367.71,294.48 368.26,294.48 368.82,294.48 369.38,294.48 369.94,294.48 370.50,294.48 371.05,294.48 371.61,294.48 372.17,294.48 372.73,294.48 373.28,294.48 373.84,294.48 374.40,294.48 374.96,294.48 375.52,294.48 376.07,294.48 376.63,294.48 377.19,294.48 377.75,294.48 378.30,294.48 378.86,294.48 379.42,294.48 379.98,294.48 380.54,294.48 381.09,294.48 381.65,294.48 382.21,294.48 382.77,294.48 383.32,294.48 383.88,294.48 384.44,294.48 385.00,294.48 385.56,294.48 386.11,294.47 386.67,294.47 387.23,294.47 387.79,294.47 388.34,294.47 388.90,294.47 389.46,294.47 390.02,294.47 390.58,294.47 391.13,294.47 391.69,294.47 392.25,294.47 392.81,294.47 393.36,294.47 393.92,294.47 394.48,294.47 395.04,294.47 395.59,294.47 396.15,294.47 396.71,294.47 397.27,294.47 397.83,294.47 398.38,294.47 398.94,294.47 399.50,294.47 400.06,294.47 400.61,294.47 401.17,294.47 401.73,294.47 402.29,294.47" fill="none" stroke="#1a1a1a" stroke-width="1.3"/>
<line x1="290.74" y1="315.51" x2="290.74" y2="367.03" stroke="#1a1a1a" stroke-width="1.2" />
<line x1="285.84" y1="315.51" x2="295.64" y2="315.51" stroke="#1a1a1a" stroke-width="1.2" />
<line x1="285.84" y1="367.03" x2="295.64" y2="367.03" stroke="#1a1a1a" stroke-width="1.2" />
<circle cx="290.74" cy="341.43" r="4.95" fill="#107d96" stroke="#111" stroke-width="1.15"/>
<circle cx="306.67" cy="294.47" r="4.95" fill="#107d96" stroke="#111" stroke-width="1.15"/>
<circle cx="322.61" cy="294.47" r="4.95" fill="#107d96" stroke="#111" stroke-width="1.15"/>
<circle cx="338.54" cy="294.47" r="4.95" fill="#107d96" stroke="#111" stroke-width="1.15"/>
<circle cx="354.48" cy="294.47" r="4.95" fill="#107d96" stroke="#111" stroke-width="1.15"/>
<circle cx="370.42" cy="294.47" r="4.95" fill="#107d96" stroke="#111" stroke-width="1.15"/>
<circle cx="386.35" cy="294.47" r="4.95" fill="#107d96" stroke="#111" stroke-width="1.15"/>
<circle cx="402.29" cy="294.47" r="4.95" fill="#107d96" stroke="#111" stroke-width="1.15"/>
<line x1="278.80" y1="263.80" x2="298.80" y2="263.80" stroke="#1a1a1a" stroke-width="1.2" />
<circle cx="288.80" cy="263.80" r="4.95" fill="#107d96" stroke="#111" stroke-width="1.15"/>
<text x="311.30" y="259.40" font-size="13" text-anchor="start" >Omicron BA.1</text>
<text x="311.30" y="274.70" font-size="13" fill="#1a1a1a">IC<tspan font-size="9.9" dy="3.0">50</tspan><tspan dy="-3.0">: 0.066 &#181;M</tspan></text>
<line x1="475.70" y1="254.90" x2="475.70" y2="410.80" stroke="#1a1a1a" stroke-width="1.2" />
<line x1="475.10" y1="410.20" x2="609.30" y2="410.20" stroke="#1a1a1a" stroke-width="1.2" />
<line x1="468.00" y1="255.50" x2="475.70" y2="255.50" stroke="#1a1a1a" stroke-width="1.2" />
<text x="465.70" y="260.10" font-size="13.0" text-anchor="end" >150</text>
<line x1="468.00" y1="294.18" x2="475.70" y2="294.18" stroke="#1a1a1a" stroke-width="1.2" />
<text x="465.70" y="298.78" font-size="13.0" text-anchor="end" >100</text>
<line x1="468.00" y1="332.85" x2="475.70" y2="332.85" stroke="#1a1a1a" stroke-width="1.2" />
<text x="465.70" y="337.45" font-size="13.0" text-anchor="end" >50</text>
<line x1="468.00" y1="371.52" x2="475.70" y2="371.52" stroke="#1a1a1a" stroke-width="1.2" />
<text x="465.70" y="376.12" font-size="13.0" text-anchor="end" >0</text>
<line x1="468.00" y1="410.20" x2="475.70" y2="410.20" stroke="#1a1a1a" stroke-width="1.2" />
<text x="465.70" y="414.80" font-size="13.0" text-anchor="end" >-50</text>
<line x1="475.70" y1="410.20" x2="475.70" y2="417.80" stroke="#1a1a1a" stroke-width="1.2" />
<text x="475.70" y="432.70" font-size="13.0" text-anchor="middle" >-1.5</text>
<line x1="502.30" y1="410.20" x2="502.30" y2="417.80" stroke="#1a1a1a" stroke-width="1.2" />
<text x="502.30" y="432.70" font-size="13.0" text-anchor="middle" >-1.0</text>
<line x1="528.90" y1="410.20" x2="528.90" y2="417.80" stroke="#1a1a1a" stroke-width="1.2" />
<text x="528.90" y="432.70" font-size="13.0" text-anchor="middle" >-0.5</text>
<line x1="555.50" y1="410.20" x2="555.50" y2="417.80" stroke="#1a1a1a" stroke-width="1.2" />
<text x="555.50" y="432.70" font-size="13.0" text-anchor="middle" >0.0</text>
<line x1="582.10" y1="410.20" x2="582.10" y2="417.80" stroke="#1a1a1a" stroke-width="1.2" />
<text x="582.10" y="432.70" font-size="13.0" text-anchor="middle" >0.5</text>
<line x1="608.70" y1="410.20" x2="608.70" y2="417.80" stroke="#1a1a1a" stroke-width="1.2" />
<text x="608.70" y="432.70" font-size="13.0" text-anchor="middle" >1.0</text>
<text x="433.70" y="332.85" font-size="16.0" text-anchor="middle" transform="rotate(-90 433.70 332.85)" >% of inhibition</text>
<text x="542.20" y="453.10" font-size="16.1" text-anchor="middle" >log GQ20-PTO (&#181;M)</text>
<line x1="481.40" y1="371.52" x2="606.04" y2="371.52" stroke="#111" stroke-width="2.3" stroke-linecap="round" stroke-dasharray="0 5.8"/>
<polyline points="491.66,371.52 492.22,371.52 492.78,371.52 493.34,371.52 493.89,371.52 494.45,371.52 495.01,371.52 495.57,371.52 496.13,371.52 496.69,371.52 497.25,371.52 497.80,371.51 498.36,371.50 498.92,371.46 499.48,371.40 500.04,371.27 500.60,370.99 501.16,370.44 501.71,369.31 502.27,367.08 502.83,362.88 503.39,355.56 503.95,344.50 504.51,330.85 505.07,317.68 505.62,307.67 506.18,301.36 506.74,297.83 507.30,295.99 507.86,295.06 508.42,294.61 508.98,294.39 509.54,294.28 510.09,294.22 510.65,294.20 511.21,294.19 511.77,294.18 512.33,294.18 512.89,294.18 513.45,294.18 514.00,294.18 514.56,294.18 515.12,294.18 515.68,294.18 516.24,294.18 516.80,294.18 517.36,294.18 517.91,294.18 518.47,294.18 519.03,294.18 519.59,294.18 520.15,294.18 520.71,294.18 521.27,294.18 521.82,294.18 522.38,294.18 522.94,294.18 523.50,294.18 524.06,294.18 524.62,294.18 525.18,294.18 525.73,294.18 526.29,294.18 526.85,294.18 527.41,294.18 527.97,294.18 528.53,294.18 529.09,294.18 529.64,294.18 530.20,294.18 530.76,294.18 531.32,294.18 531.88,294.18 532.44,294.18 533.00,294.18 533.56,294.18 534.11,294.18 534.67,294.18 535.23,294.18 535.79,294.18 536.35,294.18 536.91,294.18 537.47,294.18 538.02,294.18 538.58,294.18 539.14,294.18 539.70,294.18 540.26,294.18 540.82,294.18 541.38,294.18 541.93,294.18 542.49,294.18 543.05,294.18 543.61,294.18 544.17,294.18 544.73,294.18 545.29,294.18 545.84,294.18 546.40,294.18 546.96,294.18 547.52,294.18 548.08,294.18 548.64,294.18 549.20,294.18 549.75,294.18 550.31,294.18 550.87,294.18 551.43,294.18 551.99,294.18 552.55,294.18 553.11,294.18 553.66,294.18 554.22,294.18 554.78,294.18 555.34,294.18 555.90,294.18 556.46,294.18 557.02,294.18 557.57,294.18 558.13,294.18 558.69,294.18 559.25,294.18 559.81,294.18 560.37,294.18 560.93,294.18 561.49,294.18 562.04,294.18 562.60,294.18 563.16,294.18 563.72,294.18 564.28,294.18 564.84,294.18 565.40,294.18 565.95,294.18 566.51,294.18 567.07,294.18 567.63,294.18 568.19,294.18 568.75,294.18 569.31,294.18 569.86,294.18 570.42,294.18 570.98,294.18 571.54,294.18 572.10,294.18 572.66,294.18 573.22,294.18 573.77,294.18 574.33,294.18 574.89,294.18 575.45,294.18 576.01,294.18 576.57,294.18 577.13,294.18 577.68,294.18 578.24,294.18 578.80,294.18 579.36,294.18 579.92,294.18 580.48,294.18 581.04,294.18 581.59,294.18 582.15,294.18 582.71,294.18 583.27,294.18 583.83,294.18 584.39,294.18 584.95,294.18 585.50,294.18 586.06,294.18 586.62,294.18 587.18,294.18 587.74,294.18 588.30,294.18 588.86,294.18 589.42,294.18 589.97,294.18 590.53,294.18 591.09,294.18 591.65,294.18 592.21,294.18 592.77,294.18 593.33,294.18 593.88,294.18 594.44,294.18 595.00,294.18 595.56,294.18 596.12,294.18 596.68,294.18 597.24,294.18 597.79,294.18 598.35,294.18 598.91,294.18 599.47,294.18 600.03,294.18 600.59,294.18 601.15,294.18 601.70,294.18 602.26,294.18 602.82,294.18 603.38,294.18" fill="none" stroke="#1a1a1a" stroke-width="1.3"/>
<line x1="491.66" y1="350.87" x2="491.66" y2="409.04" stroke="#1a1a1a" stroke-width="1.2" />
<line x1="486.76" y1="350.87" x2="496.56" y2="350.87" stroke="#1a1a1a" stroke-width="1.2" />
<line x1="486.76" y1="409.04" x2="496.56" y2="409.04" stroke="#1a1a1a" stroke-width="1.2" />
<circle cx="491.66" cy="380.03" r="4.95" fill="#109664" stroke="#111" stroke-width="1.15"/>
<circle cx="507.62" cy="294.18" r="4.95" fill="#109664" stroke="#111" stroke-width="1.15"/>
<circle cx="523.58" cy="294.18" r="4.95" fill="#109664" stroke="#111" stroke-width="1.15"/>
<circle cx="539.54" cy="294.18" r="4.95" fill="#109664" stroke="#111" stroke-width="1.15"/>
<circle cx="555.50" cy="294.18" r="4.95" fill="#109664" stroke="#111" stroke-width="1.15"/>
<circle cx="571.46" cy="294.18" r="4.95" fill="#109664" stroke="#111" stroke-width="1.15"/>
<circle cx="587.42" cy="294.18" r="4.95" fill="#109664" stroke="#111" stroke-width="1.15"/>
<circle cx="603.38" cy="294.18" r="4.95" fill="#109664" stroke="#111" stroke-width="1.15"/>
<line x1="479.70" y1="261.10" x2="499.70" y2="261.10" stroke="#1a1a1a" stroke-width="1.2" />
<circle cx="489.70" cy="261.10" r="4.95" fill="#109664" stroke="#111" stroke-width="1.15"/>
<text x="512.20" y="257.50" font-size="13" text-anchor="start" >Omicron BA.5</text>
<text x="512.20" y="272.70" font-size="13" fill="#1a1a1a">IC<tspan font-size="9.9" dy="3.0">50</tspan><tspan dy="-3.0">: 0.11 &#181;M</tspan></text>
<text x="0" y="0" font-size="22" transform="translate(0.00 494.90) scale(0.94 1)" fill="#000">B</text>
<rect x="19.4" y="500.5" width="124.7" height="60.5" rx="5" fill="none" stroke="#444" stroke-width="0.9" stroke-dasharray="1 1.1"/>
<rect x="19.4" y="566.0" width="125.4" height="152.4" rx="5" fill="none" stroke="#444" stroke-width="0.9" stroke-dasharray="1 1.1"/>
<text x="82.50" y="516.90" font-size="11.3" text-anchor="middle" font-weight="bold" fill="#111" >GQ20-PTO treatment</text>
<line x1="46.20" y1="533.80" x2="62.30" y2="533.80" stroke="#e07b80" stroke-width="3.2" />
<line x1="46.20" y1="547.60" x2="62.30" y2="547.60" stroke="#3b7b98" stroke-width="3.2" />
<text x="67.30" y="537.30" font-size="11.6" text-anchor="start" fill="#222" >entry</text>
<text x="67.30" y="550.40" font-size="11.6" text-anchor="start" fill="#222" >post-entry</text>
<text x="81.80" y="580.70" font-size="11.0" text-anchor="middle" font-weight="bold" fill="#111" >One replication</text>
<text x="81.80" y="593.90" font-size="11.0" text-anchor="middle" font-weight="bold" fill="#111" >cycle assay</text>
<line x1="69.50" y1="618.40" x2="79.90" y2="618.40" stroke="#222" stroke-width="1.1" />
<path d="M79.10,615.60 L84.90,618.40 L79.10,621.20 Z" fill="#222"/>
<line x1="69.50" y1="647.00" x2="79.90" y2="647.00" stroke="#222" stroke-width="1.1" />
<path d="M79.10,644.20 L84.90,647.00 L79.10,649.80 Z" fill="#222"/>
<line x1="70.50" y1="706.60" x2="79.90" y2="706.60" stroke="#222" stroke-width="1.1" />
<path d="M79.10,703.80 L84.90,706.60 L79.10,709.40 Z" fill="#222"/>
<line x1="85.40" y1="617.60" x2="85.40" y2="708.00" stroke="#333" stroke-width="0.9" />
<rect x="91.9" y="617.4" width="3.4" height="29.9" fill="#e07b80"/>
<rect x="99.5" y="647.9" width="3.5" height="58.7" fill="#3b7b98"/>
<text x="66.80" y="621.60" font-size="11.3" text-anchor="end" fill="#222" >virus</text>
<text x="80.20" y="635.90" font-size="11.3" text-anchor="end" fill="#222" >1h</text>
<text x="68.40" y="650.00" font-size="11.3" text-anchor="end" fill="#222" >wash</text>
<text x="81.20" y="678.30" font-size="11.3" text-anchor="end" fill="#222" >7h</text>
<text x="69.40" y="710.00" font-size="11.3" text-anchor="end" fill="#222" >sgRNA</text>
<text x="161.3" y="495.0" font-size="22" fill="#000">C</text>
<line x1="240.30" y1="558.10" x2="240.30" y2="719.90" stroke="#1a1a1a" stroke-width="1.2" />
<line x1="239.70" y1="719.30" x2="401.60" y2="719.30" stroke="#1a1a1a" stroke-width="1.2" />
<line x1="234.30" y1="719.30" x2="240.30" y2="719.30" stroke="#1a1a1a" stroke-width="1.2" />
<text x="232.00" y="723.30" font-size="11.3" text-anchor="end" >0</text>
<line x1="234.30" y1="665.77" x2="240.30" y2="665.77" stroke="#1a1a1a" stroke-width="1.2" />
<text x="232.00" y="669.77" font-size="11.3" text-anchor="end" fill="#1a1a1a">5&#215;10<tspan font-size="6.5" dy="-4">3</tspan></text>
<line x1="234.30" y1="612.23" x2="240.30" y2="612.23" stroke="#1a1a1a" stroke-width="1.2" />
<text x="232.00" y="616.23" font-size="11.3" text-anchor="end" fill="#1a1a1a">1&#215;10<tspan font-size="6.5" dy="-4">4</tspan></text>
<line x1="234.30" y1="558.70" x2="240.30" y2="558.70" stroke="#1a1a1a" stroke-width="1.2" />
<text x="232.00" y="562.70" font-size="11.3" text-anchor="end" fill="#1a1a1a">1.5&#215;10<tspan font-size="6.5" dy="-4">4</tspan></text>
<text x="184.80" y="639.00" font-size="13.4" text-anchor="middle" transform="rotate(-90 184.80 639.00)" >SARS-CoV-2 E sgRNA</text>
<line x1="264.60" y1="719.30" x2="264.60" y2="725.30" stroke="#1a1a1a" stroke-width="1.2" />
<line x1="301.90" y1="719.30" x2="301.90" y2="725.30" stroke="#1a1a1a" stroke-width="1.2" />
<line x1="339.10" y1="719.30" x2="339.10" y2="725.30" stroke="#1a1a1a" stroke-width="1.2" />
<line x1="376.20" y1="719.30" x2="376.20" y2="725.30" stroke="#1a1a1a" stroke-width="1.2" />
<text x="320.80" y="500.50" font-size="14.8" text-anchor="middle" >Entry</text>
<text x="339.00" y="526.50" font-size="13.2" text-anchor="middle" >0.4432</text>
<line x1="302.20" y1="535.00" x2="376.20" y2="535.00" stroke="#555" stroke-width="1.3" />
<text x="320.30" y="561.20" font-size="13.2" text-anchor="middle" >0.0166</text>
<line x1="302.20" y1="568.40" x2="339.20" y2="568.40" stroke="#555" stroke-width="1.3" />
<path d="M255.20,715.90 L258.60,719.30 L255.20,722.70 L251.80,719.30 Z" fill="#858585" stroke="#111" stroke-width="1.15"/>
<path d="M264.60,715.90 L268.00,719.30 L264.60,722.70 L261.20,719.30 Z" fill="#858585" stroke="#111" stroke-width="1.15"/>
<path d="M274.00,715.90 L277.40,719.30 L274.00,722.70 L270.60,719.30 Z" fill="#858585" stroke="#111" stroke-width="1.15"/>
<rect x="290.30" y="612.23" width="23.2" height="107.07" fill="#969696" stroke="#1a1a1a" stroke-width="1.1"/>
<line x1="301.90" y1="601.53" x2="301.90" y2="621.33" stroke="#1a1a1a" stroke-width="1.1" />
<line x1="295.90" y1="601.53" x2="307.90" y2="601.53" stroke="#1a1a1a" stroke-width="1.2" />
<line x1="295.90" y1="621.33" x2="307.90" y2="621.33" stroke="#1a1a1a" stroke-width="1.2" />
<path d="M292.70,614.72 L296.10,618.12 L292.70,621.52 L289.30,618.12 Z" fill="#858585" stroke="#111" stroke-width="1.15"/>
<path d="M301.90,596.52 L305.30,599.92 L301.90,603.32 L298.50,599.92 Z" fill="#858585" stroke="#111" stroke-width="1.15"/>
<path d="M311.10,614.72 L314.50,618.12 L311.10,621.52 L307.70,618.12 Z" fill="#858585" stroke="#111" stroke-width="1.15"/>
<rect x="327.50" y="703.78" width="23.2" height="15.52" fill="#fa8080" stroke="#1a1a1a" stroke-width="1.1"/>
<line x1="339.10" y1="687.18" x2="339.10" y2="719.30" stroke="#1a1a1a" stroke-width="1.1" />
<line x1="333.10" y1="687.18" x2="345.10" y2="687.18" stroke="#1a1a1a" stroke-width="1.2" />
<line x1="333.10" y1="719.30" x2="345.10" y2="719.30" stroke="#1a1a1a" stroke-width="1.2" />
<rect x="336.10" y="682.57" width="6.00" height="6.00" fill="#fa8080" stroke="#111" stroke-width="1.0"/>
<rect x="336.10" y="705.59" width="6.00" height="6.00" fill="#fa8080" stroke="#111" stroke-width="1.0"/>
<rect x="336.10" y="713.09" width="6.00" height="6.00" fill="#fa8080" stroke="#111" stroke-width="1.0"/>
<rect x="364.60" y="635.79" width="23.2" height="83.51" fill="#fa8080" stroke="#1a1a1a" stroke-width="1.1"/>
<line x1="376.20" y1="594.03" x2="376.20" y2="676.47" stroke="#1a1a1a" stroke-width="1.1" />
<line x1="370.20" y1="594.03" x2="382.20" y2="594.03" stroke="#1a1a1a" stroke-width="1.2" />
<line x1="370.20" y1="676.47" x2="382.20" y2="676.47" stroke="#1a1a1a" stroke-width="1.2" />
<rect x="373.20" y="584.61" width="6.00" height="6.00" fill="#fa8080" stroke="#111" stroke-width="1.0"/>
<rect x="363.90" y="656.34" width="6.00" height="6.00" fill="#fa8080" stroke="#111" stroke-width="1.0"/>
<rect x="382.50" y="656.34" width="6.00" height="6.00" fill="#fa8080" stroke="#111" stroke-width="1.0"/>
<text x="268.10" y="736.30" font-size="11.3" text-anchor="end" transform="rotate(-45 268.10 736.30)" >mock</text>
<text x="305.90" y="736.30" font-size="11.3" text-anchor="end" transform="rotate(-45 305.90 736.30)" >virus</text>
<text x="339.10" y="741.00" font-size="11.600000000000001" text-anchor="middle" >5</text>
<text x="376.20" y="741.00" font-size="11.600000000000001" text-anchor="middle" >1.25</text>
<line x1="323.90" y1="745.50" x2="392.60" y2="745.50" stroke="#111" stroke-width="1.1" />
<text x="359.90" y="758.80" font-size="11.100000000000001" text-anchor="middle" >GQ20-PTO (&#181;M)</text>
<line x1="517.20" y1="556.70" x2="517.20" y2="720.10" stroke="#1a1a1a" stroke-width="1.2" />
<line x1="516.60" y1="719.50" x2="680.10" y2="719.50" stroke="#1a1a1a" stroke-width="1.2" />
<line x1="511.20" y1="719.50" x2="517.20" y2="719.50" stroke="#1a1a1a" stroke-width="1.2" />
<text x="508.90" y="723.50" font-size="11.3" text-anchor="end" >0</text>
<line x1="511.20" y1="665.43" x2="517.20" y2="665.43" stroke="#1a1a1a" stroke-width="1.2" />
<text x="508.90" y="669.43" font-size="11.3" text-anchor="end" fill="#1a1a1a">5&#215;10<tspan font-size="6.5" dy="-4">3</tspan></text>
<line x1="511.20" y1="611.37" x2="517.20" y2="611.37" stroke="#1a1a1a" stroke-width="1.2" />
<text x="508.90" y="615.37" font-size="11.3" text-anchor="end" fill="#1a1a1a">1&#215;10<tspan font-size="6.5" dy="-4">4</tspan></text>
<line x1="511.20" y1="557.30" x2="517.20" y2="557.30" stroke="#1a1a1a" stroke-width="1.2" />
<text x="508.90" y="561.30" font-size="11.3" text-anchor="end" fill="#1a1a1a">1.5&#215;10<tspan font-size="6.5" dy="-4">4</tspan></text>
<text x="461.00" y="638.40" font-size="13.4" text-anchor="middle" transform="rotate(-90 461.00 638.40)" >SARS-CoV-2 E sgRNA</text>
<line x1="542.20" y1="719.50" x2="542.20" y2="725.50" stroke="#1a1a1a" stroke-width="1.2" />
<line x1="579.50" y1="719.50" x2="579.50" y2="725.50" stroke="#1a1a1a" stroke-width="1.2" />
<line x1="617.10" y1="719.50" x2="617.10" y2="725.50" stroke="#1a1a1a" stroke-width="1.2" />
<line x1="654.50" y1="719.50" x2="654.50" y2="725.50" stroke="#1a1a1a" stroke-width="1.2" />
<text x="598.80" y="510.70" font-size="15.4" text-anchor="middle" >Post-entry</text>
<text x="617.00" y="537.50" font-size="13.2" text-anchor="middle" >0.0047</text>
<line x1="579.50" y1="545.20" x2="654.90" y2="545.20" stroke="#555" stroke-width="1.3" />
<text x="597.90" y="572.00" font-size="13.2" text-anchor="middle" >0.0051</text>
<line x1="579.50" y1="579.10" x2="617.30" y2="579.10" stroke="#555" stroke-width="1.3" />
<path d="M533.00,716.10 L536.40,719.50 L533.00,722.90 L529.60,719.50 Z" fill="#858585" stroke="#111" stroke-width="1.15"/>
<path d="M542.20,716.10 L545.60,719.50 L542.20,722.90 L538.80,719.50 Z" fill="#858585" stroke="#111" stroke-width="1.15"/>
<path d="M551.40,716.10 L554.80,719.50 L551.40,722.90 L548.00,719.50 Z" fill="#858585" stroke="#111" stroke-width="1.15"/>
<rect x="567.90" y="610.83" width="23.2" height="108.67" fill="#969696" stroke="#1a1a1a" stroke-width="1.1"/>
<line x1="579.50" y1="600.55" x2="579.50" y2="620.56" stroke="#1a1a1a" stroke-width="1.1" />
<line x1="573.50" y1="600.55" x2="585.50" y2="600.55" stroke="#1a1a1a" stroke-width="1.2" />
<line x1="573.50" y1="620.56" x2="585.50" y2="620.56" stroke="#1a1a1a" stroke-width="1.2" />
<path d="M570.50,613.59 L573.90,616.99 L570.50,620.39 L567.10,616.99 Z" fill="#858585" stroke="#111" stroke-width="1.15"/>
<path d="M579.50,595.75 L582.90,599.15 L579.50,602.55 L576.10,599.15 Z" fill="#858585" stroke="#111" stroke-width="1.15"/>
<path d="M588.80,613.59 L592.20,616.99 L588.80,620.39 L585.40,616.99 Z" fill="#858585" stroke="#111" stroke-width="1.15"/>
<rect x="605.50" y="691.60" width="23.2" height="27.90" fill="#137d96" stroke="#1a1a1a" stroke-width="1.1"/>
<line x1="617.10" y1="678.95" x2="617.10" y2="704.15" stroke="#1a1a1a" stroke-width="1.1" />
<line x1="611.10" y1="678.95" x2="623.10" y2="678.95" stroke="#1a1a1a" stroke-width="1.2" />
<line x1="611.10" y1="704.15" x2="623.10" y2="704.15" stroke="#1a1a1a" stroke-width="1.2" />
<circle cx="617.10" cy="678.95" r="3.1" fill="#137d96" stroke="#1a1a1a" stroke-width="0.9"/>
<circle cx="617.10" cy="691.39" r="3.1" fill="#137d96" stroke="#1a1a1a" stroke-width="0.9"/>
<circle cx="617.10" cy="704.15" r="3.1" fill="#137d96" stroke="#1a1a1a" stroke-width="0.9"/>
<rect x="642.90" y="693.33" width="23.2" height="26.17" fill="#137d96" stroke="#1a1a1a" stroke-width="1.1"/>
<line x1="654.50" y1="673.00" x2="654.50" y2="713.01" stroke="#1a1a1a" stroke-width="1.1" />
<line x1="648.50" y1="673.00" x2="660.50" y2="673.00" stroke="#1a1a1a" stroke-width="1.2" />
<line x1="648.50" y1="713.01" x2="660.50" y2="713.01" stroke="#1a1a1a" stroke-width="1.2" />
<circle cx="654.50" cy="675.38" r="3.1" fill="#137d96" stroke="#1a1a1a" stroke-width="0.9"/>
<circle cx="654.50" cy="688.57" r="3.1" fill="#137d96" stroke="#1a1a1a" stroke-width="0.9"/>
<circle cx="654.50" cy="714.74" r="3.1" fill="#137d96" stroke="#1a1a1a" stroke-width="0.9"/>
<text x="545.70" y="736.50" font-size="11.3" text-anchor="end" transform="rotate(-45 545.70 736.50)" >mock</text>
<text x="583.50" y="736.50" font-size="11.3" text-anchor="end" transform="rotate(-45 583.50 736.50)" >virus</text>
<text x="617.10" y="738.70" font-size="11.600000000000001" text-anchor="middle" >5</text>
<text x="654.50" y="738.70" font-size="11.600000000000001" text-anchor="middle" >1.25</text>
<line x1="603.10" y1="743.50" x2="672.30" y2="743.50" stroke="#111" stroke-width="1.1" />
<text x="638.90" y="756.60" font-size="11.100000000000001" text-anchor="middle" >GQ20-PTO (&#181;M)</text>
<text x="0" y="0" font-size="22" transform="translate(1.00 787.80) scale(0.94 1)" fill="#000">D</text>
<text x="48.40" y="834.70" font-size="10.9" text-anchor="middle" font-weight="bold" fill="#111" >SARS-CoV-2</text>
<text x="48.60" y="847.70" font-size="10.9" text-anchor="middle" font-weight="bold" fill="#111" >PPs</text>
<text x="124.30" y="851.30" font-size="10.8" text-anchor="start" font-weight="bold" fill="#111" >GQ20-PTO</text>
<line x1="21.31" y1="858.49" x2="20.73" y2="854.84" stroke="#c0325e" stroke-width="1.2"/><g transform="translate(20.58 853.85) rotate(-99.0)" fill="#c0325e"><path d="M-1.7,0 L0.4,-1.75 L0.9,0 L0.4,1.75 Z"/><circle cx="0.5" cy="-0.8" r="1.05"/><circle cx="0.5" cy="0.8" r="1.05"/></g><line x1="28.41" y1="861.22" x2="31.28" y2="858.89" stroke="#c0325e" stroke-width="1.2"/><g transform="translate(32.06 858.26) rotate(-39.0)" fill="#c0325e"><path d="M-1.7,0 L0.4,-1.75 L0.9,0 L0.4,1.75 Z"/><circle cx="0.5" cy="-0.8" r="1.05"/><circle cx="0.5" cy="0.8" r="1.05"/></g><line x1="29.60" y1="868.72" x2="33.05" y2="870.05" stroke="#c0325e" stroke-width="1.2"/><g transform="translate(33.98 870.41) rotate(21.0)" fill="#c0325e"><path d="M-1.7,0 L0.4,-1.75 L0.9,0 L0.4,1.75 Z"/><circle cx="0.5" cy="-0.8" r="1.05"/><circle cx="0.5" cy="0.8" r="1.05"/></g><line x1="23.69" y1="873.51" x2="24.27" y2="877.16" stroke="#c0325e" stroke-width="1.2"/><g transform="translate(24.42 878.15) rotate(81.0)" fill="#c0325e"><path d="M-1.7,0 L0.4,-1.75 L0.9,0 L0.4,1.75 Z"/><circle cx="0.5" cy="-0.8" r="1.05"/><circle cx="0.5" cy="0.8" r="1.05"/></g><line x1="16.59" y1="870.78" x2="13.72" y2="873.11" stroke="#c0325e" stroke-width="1.2"/><g transform="translate(12.94 873.74) rotate(141.0)" fill="#c0325e"><path d="M-1.7,0 L0.4,-1.75 L0.9,0 L0.4,1.75 Z"/><circle cx="0.5" cy="-0.8" r="1.05"/><circle cx="0.5" cy="0.8" r="1.05"/></g><line x1="15.40" y1="863.28" x2="11.95" y2="861.95" stroke="#c0325e" stroke-width="1.2"/><g transform="translate(11.02 861.59) rotate(201.0)" fill="#c0325e"><path d="M-1.7,0 L0.4,-1.75 L0.9,0 L0.4,1.75 Z"/><circle cx="0.5" cy="-0.8" r="1.05"/><circle cx="0.5" cy="0.8" r="1.05"/></g><circle cx="22.5" cy="866.0" r="7.6" fill="#e9f0f9" stroke="#c0325e" stroke-width="1.8"/>
<line x1="50.09" y1="863.97" x2="49.62" y2="861.01" stroke="#c0325e" stroke-width="1.2"/><g transform="translate(49.47 860.02) rotate(-99.0)" fill="#c0325e"><path d="M-1.7,0 L0.4,-1.75 L0.9,0 L0.4,1.75 Z"/><circle cx="0.5" cy="-0.8" r="1.05"/><circle cx="0.5" cy="0.8" r="1.05"/></g><line x1="55.51" y1="866.05" x2="57.84" y2="864.16" stroke="#c0325e" stroke-width="1.2"/><g transform="translate(58.62 863.53) rotate(-39.0)" fill="#c0325e"><path d="M-1.7,0 L0.4,-1.75 L0.9,0 L0.4,1.75 Z"/><circle cx="0.5" cy="-0.8" r="1.05"/><circle cx="0.5" cy="0.8" r="1.05"/></g><line x1="56.41" y1="871.78" x2="59.22" y2="872.85" stroke="#c0325e" stroke-width="1.2"/><g transform="translate(60.15 873.21) rotate(21.0)" fill="#c0325e"><path d="M-1.7,0 L0.4,-1.75 L0.9,0 L0.4,1.75 Z"/><circle cx="0.5" cy="-0.8" r="1.05"/><circle cx="0.5" cy="0.8" r="1.05"/></g><line x1="51.91" y1="875.43" x2="52.38" y2="878.39" stroke="#c0325e" stroke-width="1.2"/><g transform="translate(52.53 879.38) rotate(81.0)" fill="#c0325e"><path d="M-1.7,0 L0.4,-1.75 L0.9,0 L0.4,1.75 Z"/><circle cx="0.5" cy="-0.8" r="1.05"/><circle cx="0.5" cy="0.8" r="1.05"/></g><line x1="46.49" y1="873.35" x2="44.16" y2="875.24" stroke="#c0325e" stroke-width="1.2"/><g transform="translate(43.38 875.87) rotate(141.0)" fill="#c0325e"><path d="M-1.7,0 L0.4,-1.75 L0.9,0 L0.4,1.75 Z"/><circle cx="0.5" cy="-0.8" r="1.05"/><circle cx="0.5" cy="0.8" r="1.05"/></g><line x1="45.59" y1="867.62" x2="42.78" y2="866.55" stroke="#c0325e" stroke-width="1.2"/><g transform="translate(41.85 866.19) rotate(201.0)" fill="#c0325e"><path d="M-1.7,0 L0.4,-1.75 L0.9,0 L0.4,1.75 Z"/><circle cx="0.5" cy="-0.8" r="1.05"/><circle cx="0.5" cy="0.8" r="1.05"/></g><circle cx="51.0" cy="869.7" r="5.8" fill="#e9f0f9" stroke="#c0325e" stroke-width="1.6"/>
<line x1="37.39" y1="883.47" x2="36.92" y2="880.51" stroke="#c0325e" stroke-width="1.2"/><g transform="translate(36.77 879.52) rotate(-99.0)" fill="#c0325e"><path d="M-1.7,0 L0.4,-1.75 L0.9,0 L0.4,1.75 Z"/><circle cx="0.5" cy="-0.8" r="1.05"/><circle cx="0.5" cy="0.8" r="1.05"/></g><line x1="42.81" y1="885.55" x2="45.14" y2="883.66" stroke="#c0325e" stroke-width="1.2"/><g transform="translate(45.92 883.03) rotate(-39.0)" fill="#c0325e"><path d="M-1.7,0 L0.4,-1.75 L0.9,0 L0.4,1.75 Z"/><circle cx="0.5" cy="-0.8" r="1.05"/><circle cx="0.5" cy="0.8" r="1.05"/></g><line x1="43.71" y1="891.28" x2="46.52" y2="892.35" stroke="#c0325e" stroke-width="1.2"/><g transform="translate(47.45 892.71) rotate(21.0)" fill="#c0325e"><path d="M-1.7,0 L0.4,-1.75 L0.9,0 L0.4,1.75 Z"/><circle cx="0.5" cy="-0.8" r="1.05"/><circle cx="0.5" cy="0.8" r="1.05"/></g><line x1="39.21" y1="894.93" x2="39.68" y2="897.89" stroke="#c0325e" stroke-width="1.2"/><g transform="translate(39.83 898.88) rotate(81.0)" fill="#c0325e"><path d="M-1.7,0 L0.4,-1.75 L0.9,0 L0.4,1.75 Z"/><circle cx="0.5" cy="-0.8" r="1.05"/><circle cx="0.5" cy="0.8" r="1.05"/></g><line x1="33.79" y1="892.85" x2="31.46" y2="894.74" stroke="#c0325e" stroke-width="1.2"/><g transform="translate(30.68 895.37) rotate(141.0)" fill="#c0325e"><path d="M-1.7,0 L0.4,-1.75 L0.9,0 L0.4,1.75 Z"/><circle cx="0.5" cy="-0.8" r="1.05"/><circle cx="0.5" cy="0.8" r="1.05"/></g><line x1="32.89" y1="887.12" x2="30.08" y2="886.05" stroke="#c0325e" stroke-width="1.2"/><g transform="translate(29.15 885.69) rotate(201.0)" fill="#c0325e"><path d="M-1.7,0 L0.4,-1.75 L0.9,0 L0.4,1.75 Z"/><circle cx="0.5" cy="-0.8" r="1.05"/><circle cx="0.5" cy="0.8" r="1.05"/></g><circle cx="38.3" cy="889.2" r="5.8" fill="#e9f0f9" stroke="#c0325e" stroke-width="1.6"/>
<ellipse cx="95.1" cy="885.9" rx="27.4" ry="26.4" fill="none" stroke="#8a8a8a" stroke-width="0.8"/>
<path d="M98.10,862.90 C98.37,862.77 98.61,866.11 99.20,867.30 C99.79,868.49 100.36,868.58 101.40,869.50 C102.44,870.42 103.36,871.21 105.00,872.40 C106.64,873.59 109.96,875.31 110.50,876.10 C111.04,876.89 108.72,876.35 108.00,876.80 C107.28,877.25 107.17,878.60 106.50,878.60 C105.83,878.60 105.34,877.39 104.30,876.80 C103.26,876.21 102.01,875.62 100.70,875.30 C99.39,874.98 98.58,874.93 97.00,875.00 C95.42,875.07 92.42,875.90 91.90,875.70 C91.38,875.50 93.83,874.62 94.10,873.90 C94.37,873.18 93.00,872.24 93.40,871.70 C93.80,871.16 95.53,871.57 96.30,870.90 C97.07,870.23 97.38,869.44 97.70,868.00 C98.02,866.56 97.83,863.03 98.10,862.90 Z" fill="#e2824c" stroke="#e2824c" stroke-width="0.7" stroke-linejoin="round"/>
<circle cx="101.0" cy="872.0" r="2.0" fill="#d05f28"/>
<path d="M70.70,877.50 C70.95,877.16 74.09,878.25 75.80,878.20 C77.51,878.15 78.42,878.24 80.20,877.20 C81.98,876.16 84.58,872.80 85.70,872.40 C86.82,872.00 85.75,874.41 86.40,875.00 C87.05,875.59 89.35,874.98 89.30,875.70 C89.25,876.42 87.22,877.49 86.10,879.00 C84.98,880.51 84.04,881.99 83.10,884.10 C82.16,886.21 81.55,890.57 80.90,890.70 C80.25,890.83 80.15,886.38 79.50,884.80 C78.85,883.22 78.22,882.75 77.30,881.90 C76.38,881.05 75.59,880.89 74.40,880.10 C73.21,879.31 70.45,877.84 70.70,877.50 Z" fill="#eba682" stroke="#eba682" stroke-width="0.7" stroke-linejoin="round"/>
<circle cx="81.3" cy="880.4" r="2.0" fill="#e3916a"/>
<path d="M96.60,876.10 C98.04,876.15 99.83,878.26 99.90,879.30 C99.97,880.34 98.04,880.39 97.00,881.90 C95.96,883.41 94.37,885.34 94.10,887.70 C93.83,890.06 95.77,894.46 95.50,895.00 C95.23,895.54 93.64,892.14 92.60,890.70 C91.56,889.26 91.54,887.86 89.70,887.00 C87.86,886.14 82.80,886.55 82.40,885.90 C82.00,885.25 85.79,884.64 87.50,883.40 C89.21,882.16 90.26,880.31 91.90,879.00 C93.54,877.69 95.16,876.05 96.60,876.10 Z" fill="#e2824c" stroke="#e2824c" stroke-width="0.7" stroke-linejoin="round"/>
<circle cx="91.2" cy="883.7" r="2.0" fill="#d05f28"/>
<path d="M102.10,877.50 C102.24,876.98 104.22,880.61 105.80,881.20 C107.38,881.79 108.81,881.00 110.90,880.80 C112.99,880.60 117.00,879.78 117.40,880.10 C117.80,880.42 114.41,881.36 113.10,882.60 C111.79,883.84 111.02,884.77 110.10,887.00 C109.18,889.23 108.72,894.33 108.00,895.00 C107.28,895.67 106.64,892.66 106.10,890.70 C105.56,888.74 105.72,886.48 105.00,884.10 C104.28,881.72 101.96,878.02 102.10,877.50 Z" fill="#eba682" stroke="#eba682" stroke-width="0.7" stroke-linejoin="round"/>
<circle cx="107.2" cy="885.5" r="2.0" fill="#e3916a"/>
<path d="M87.20,888.80 C87.79,889.07 88.15,891.94 89.00,893.60 C89.85,895.26 90.73,896.56 91.90,898.00 C93.07,899.44 95.23,900.83 95.50,901.60 C95.77,902.37 93.72,901.51 93.40,902.30 C93.08,903.09 94.24,906.00 93.70,906.00 C93.16,906.00 91.77,903.42 90.40,902.30 C89.03,901.18 88.53,900.57 86.10,899.80 C83.67,899.03 77.44,898.59 76.90,898.00 C76.36,897.41 81.52,897.56 83.10,896.50 C84.68,895.44 84.96,893.49 85.70,892.10 C86.44,890.71 86.61,888.53 87.20,888.80 Z" fill="#e2824c" stroke="#e2824c" stroke-width="0.7" stroke-linejoin="round"/>
<circle cx="86.8" cy="898.0" r="2.0" fill="#d05f28"/>
<path d="M98.80,887.00 C99.39,885.69 100.68,886.51 101.40,887.70 C102.12,888.89 102.01,891.75 102.80,893.60 C103.59,895.45 104.34,896.56 105.80,898.00 C107.26,899.44 110.90,900.95 110.90,901.60 C110.90,902.25 107.51,901.73 105.80,901.60 C104.09,901.47 103.25,900.38 101.40,900.90 C99.55,901.42 96.17,904.64 95.50,904.50 C94.83,904.36 97.23,901.81 97.70,900.10 C98.17,898.39 97.90,897.36 98.10,895.00 C98.30,892.64 98.21,888.31 98.80,887.00 Z" fill="#e2824c" stroke="#e2824c" stroke-width="0.7" stroke-linejoin="round"/>
<circle cx="100.7" cy="896.5" r="2.0" fill="#d05f28"/>
<path d="M65.6,850.2 Q82,850.5 88.4,860.2" fill="none" stroke="#1a1a1a" stroke-width="1.1"/>
<path d="M85.3,861.6 L91.0,865.4 L91.0,858.6 Z" fill="#1a1a1a"/>
<path d="M123.4,850.2 Q109,850.5 104.3,860.2" fill="none" stroke="#1a1a1a" stroke-width="1.1"/>
<path d="M101.7,858.9 L101.7,865.4 L107.6,862.0 Z" fill="#1a1a1a"/>
<text x="97.40" y="923.60" font-size="10.9" text-anchor="middle" fill="#222" >Calu-3 cells</text>
<line x1="97.40" y1="930.00" x2="97.40" y2="953.50" stroke="#222" stroke-width="0.9" />
<path d="M95.2,952.2 L97.4,956.8 L99.6,952.2 Z" fill="#222"/>
<text x="97.90" y="971.20" font-size="10.95" text-anchor="middle" fill="#222" >% of inhibition</text>
<text x="97.80" y="984.40" font-size="11.3" text-anchor="middle" fill="#222" >(luciferase)</text>
<text x="0" y="0" font-size="22" transform="translate(161.00 787.70) scale(0.94 1)" fill="#000">E</text>
<line x1="239.40" y1="829.20" x2="239.40" y2="991.15" stroke="#1a1a1a" stroke-width="1.2" />
<line x1="238.80" y1="990.55" x2="401.15" y2="990.55" stroke="#1a1a1a" stroke-width="1.2" />
<line x1="233.40" y1="829.80" x2="239.40" y2="829.80" stroke="#1a1a1a" stroke-width="1.2" />
<text x="231.30" y="833.90" font-size="11.3" text-anchor="end" >150</text>
<line x1="233.40" y1="869.99" x2="239.40" y2="869.99" stroke="#1a1a1a" stroke-width="1.2" />
<text x="231.30" y="874.09" font-size="11.3" text-anchor="end" >100</text>
<line x1="233.40" y1="910.17" x2="239.40" y2="910.17" stroke="#1a1a1a" stroke-width="1.2" />
<text x="231.30" y="914.27" font-size="11.3" text-anchor="end" >50</text>
<line x1="233.40" y1="950.36" x2="239.40" y2="950.36" stroke="#1a1a1a" stroke-width="1.2" />
<text x="231.30" y="954.46" font-size="11.3" text-anchor="end" >0</text>
<line x1="233.40" y1="990.55" x2="239.40" y2="990.55" stroke="#1a1a1a" stroke-width="1.2" />
<text x="231.30" y="994.65" font-size="11.3" text-anchor="end" >-50</text>
<line x1="239.40" y1="990.55" x2="239.40" y2="996.55" stroke="#1a1a1a" stroke-width="1.2" />
<text x="239.40" y="1008.75" font-size="11.3" text-anchor="middle" >-1.5</text>
<line x1="271.63" y1="990.55" x2="271.63" y2="996.55" stroke="#1a1a1a" stroke-width="1.2" />
<text x="271.63" y="1008.75" font-size="11.3" text-anchor="middle" >-1.0</text>
<line x1="303.86" y1="990.55" x2="303.86" y2="996.55" stroke="#1a1a1a" stroke-width="1.2" />
<text x="303.86" y="1008.75" font-size="11.3" text-anchor="middle" >-0.5</text>
<line x1="336.09" y1="990.55" x2="336.09" y2="996.55" stroke="#1a1a1a" stroke-width="1.2" />
<text x="336.09" y="1008.75" font-size="11.3" text-anchor="middle" >0.0</text>
<line x1="368.32" y1="990.55" x2="368.32" y2="996.55" stroke="#1a1a1a" stroke-width="1.2" />
<text x="368.32" y="1008.75" font-size="11.3" text-anchor="middle" >0.5</text>
<line x1="400.55" y1="990.55" x2="400.55" y2="996.55" stroke="#1a1a1a" stroke-width="1.2" />
<text x="400.55" y="1008.75" font-size="11.3" text-anchor="middle" >1.0</text>
<text x="319.98" y="1025.75" font-size="13.5" text-anchor="middle" >log concentration (&#181;M)</text>
<text x="205.80" y="910.88" font-size="13.6" text-anchor="middle" fill="#1a1a1a" transform="rotate(-90 205.80 910.88)">% of inhibition (<tspan fill="#8a1cc0">Omicron BA.1</tspan>/<tspan fill="#8c8c8c">VSV)</tspan></text>
<line x1="244.70" y1="950.36" x2="400.55" y2="950.36" stroke="#111" stroke-width="2.1" stroke-linecap="round" stroke-dasharray="0 4.85"/>
<polyline points="258.74,931.47 259.90,931.45 261.06,931.42 262.22,931.39 263.38,931.36 264.54,931.32 265.70,931.29 266.86,931.25 268.02,931.21 269.18,931.17 270.34,931.13 271.50,931.08 272.66,931.03 273.82,930.97 274.98,930.92 276.14,930.85 277.30,930.79 278.46,930.72 279.62,930.65 280.78,930.57 281.94,930.49 283.10,930.40 284.26,930.31 285.42,930.21 286.58,930.10 287.75,929.99 288.91,929.88 290.07,929.75 291.23,929.62 292.39,929.48 293.55,929.33 294.71,929.17 295.87,929.00 297.03,928.82 298.19,928.63 299.35,928.43 300.51,928.22 301.67,928.00 302.83,927.76 303.99,927.51 305.15,927.25 306.31,926.97 307.47,926.67 308.63,926.36 309.79,926.03 310.95,925.68 312.11,925.31 313.27,924.93 314.43,924.52 315.59,924.09 316.75,923.64 317.91,923.16 319.07,922.67 320.23,922.14 321.39,921.59 322.55,921.02 323.71,920.41 324.87,919.78 326.03,919.12 327.19,918.43 328.35,917.71 329.52,916.96 330.68,916.17 331.84,915.36 333.00,914.52 334.16,913.64 335.32,912.73 336.48,911.79 337.64,910.81 338.80,909.81 339.96,908.77 341.12,907.71 342.28,906.61 343.44,905.49 344.60,904.34 345.76,903.16 346.92,901.96 348.08,900.74 349.24,899.49 350.40,898.23 351.56,896.95 352.72,895.65 353.88,894.34 355.04,893.02 356.20,891.69 357.36,890.36 358.52,889.02 359.68,887.69 360.84,886.35 362.00,885.02 363.16,883.70 364.32,882.39 365.48,881.09 366.64,879.81 367.80,878.54 368.96,877.29 370.12,876.06 371.29,874.85 372.45,873.67 373.61,872.51 374.77,871.38" fill="none" stroke="#b0b0b0" stroke-width="1" stroke-dasharray="3 2"/>
<line x1="258.74" y1="913.79" x2="258.74" y2="948.75" stroke="#bdbdbd" stroke-width="1.1" />
<line x1="254.84" y1="913.79" x2="262.64" y2="913.79" stroke="#bdbdbd" stroke-width="1.1" />
<line x1="254.84" y1="948.75" x2="262.64" y2="948.75" stroke="#bdbdbd" stroke-width="1.1" />
<line x1="297.41" y1="916.61" x2="297.41" y2="937.50" stroke="#bdbdbd" stroke-width="1.1" />
<line x1="293.51" y1="916.61" x2="301.31" y2="916.61" stroke="#bdbdbd" stroke-width="1.1" />
<line x1="293.51" y1="937.50" x2="301.31" y2="937.50" stroke="#bdbdbd" stroke-width="1.1" />
<line x1="336.09" y1="899.73" x2="336.09" y2="925.45" stroke="#bdbdbd" stroke-width="1.1" />
<line x1="332.19" y1="899.73" x2="339.99" y2="899.73" stroke="#bdbdbd" stroke-width="1.1" />
<line x1="332.19" y1="925.45" x2="339.99" y2="925.45" stroke="#bdbdbd" stroke-width="1.1" />
<circle cx="258.74" cy="931.07" r="4.3" fill="#d0d0d0" stroke="#a8a8a8" stroke-width="0.9"/>
<path d="M256.14,928.47 L261.34,933.67 M261.34,928.47 L256.14,933.67" stroke="#aaa" stroke-width="0.9"/>
<circle cx="297.41" cy="927.05" r="4.3" fill="#d0d0d0" stroke="#a8a8a8" stroke-width="0.9"/>
<path d="M294.81,924.45 L300.01,929.65 M300.01,924.45 L294.81,929.65" stroke="#aaa" stroke-width="0.9"/>
<circle cx="336.09" cy="912.59" r="4.3" fill="#d0d0d0" stroke="#a8a8a8" stroke-width="0.9"/>
<path d="M333.49,909.99 L338.69,915.19 M338.69,909.99 L333.49,915.19" stroke="#aaa" stroke-width="0.9"/>
<circle cx="374.77" cy="869.99" r="4.3" fill="#d0d0d0" stroke="#a8a8a8" stroke-width="0.9"/>
<path d="M372.17,867.39 L377.37,872.59 M377.37,867.39 L372.17,872.59" stroke="#aaa" stroke-width="0.9"/>
<polyline points="258.74,949.82 259.51,949.78 260.29,949.73 261.06,949.68 261.83,949.63 262.61,949.57 263.38,949.51 264.15,949.45 264.93,949.38 265.70,949.30 266.47,949.22 267.25,949.13 268.02,949.04 268.79,948.94 269.57,948.83 270.34,948.72 271.11,948.59 271.89,948.46 272.66,948.31 273.43,948.16 274.21,947.99 274.98,947.81 275.76,947.62 276.53,947.42 277.30,947.20 278.08,946.97 278.85,946.72 279.62,946.45 280.40,946.16 281.17,945.85 281.94,945.52 282.72,945.17 283.49,944.80 284.26,944.40 285.04,943.97 285.81,943.52 286.58,943.04 287.36,942.53 288.13,941.98 288.91,941.41 289.68,940.80 290.45,940.15 291.23,939.47 292.00,938.74 292.77,937.98 293.55,937.18 294.32,936.34 295.09,935.45 295.87,934.53 296.64,933.56 297.41,932.54 298.19,931.49 298.96,930.39 299.73,929.25 300.51,928.07 301.28,926.85 302.06,925.59 302.83,924.29 303.60,922.96 304.38,921.59 305.15,920.20 305.92,918.78 306.70,917.34 307.47,915.88 308.24,914.41 309.02,912.92 309.79,911.42 310.56,909.93 311.34,908.43 312.11,906.93 312.88,905.45 313.66,903.98 314.43,902.52 315.20,901.09 315.98,899.68 316.75,898.30 317.53,896.95 318.30,895.63 319.07,894.34 319.85,893.09 320.62,891.88 321.39,890.72 322.17,889.59 322.94,888.51 323.71,887.46 324.49,886.46 325.26,885.51 326.03,884.60 326.81,883.73 327.58,882.90 328.35,882.11 329.13,881.36 329.90,880.65 330.68,879.98 331.45,879.35 332.22,878.75 333.00,878.18 333.77,877.65 334.54,877.15 335.32,876.67 336.09,876.23 336.86,875.81 337.64,875.42 338.41,875.06 339.18,874.71 339.96,874.39 340.73,874.09 341.50,873.81 342.28,873.55 343.05,873.30 343.83,873.07 344.60,872.86 345.37,872.66 346.15,872.47 346.92,872.30 347.69,872.14 348.47,871.99 349.24,871.85 350.01,871.72 350.79,871.59 351.56,871.48 352.33,871.38 353.11,871.28 353.88,871.19 354.65,871.10 355.43,871.02 356.20,870.95 356.98,870.88 357.75,870.82 358.52,870.76 359.30,870.70 360.07,870.65 360.84,870.60 361.62,870.56 362.39,870.52 363.16,870.48 363.94,870.45 364.71,870.41 365.48,870.38 366.26,870.35 367.03,870.33 367.80,870.30 368.58,870.28 369.35,870.26 370.12,870.24 370.90,870.22 371.67,870.21 372.45,870.19 373.22,870.18 373.99,870.16 374.77,870.15" fill="none" stroke="#1a1a1a" stroke-width="1.3"/>
<line x1="258.74" y1="946.34" x2="258.74" y2="955.99" stroke="#1a1a1a" stroke-width="1.2" />
<line x1="254.84" y1="946.34" x2="262.64" y2="946.34" stroke="#1a1a1a" stroke-width="1.2" />
<line x1="254.84" y1="955.99" x2="262.64" y2="955.99" stroke="#1a1a1a" stroke-width="1.2" />
<line x1="297.41" y1="908.81" x2="297.41" y2="948.35" stroke="#1a1a1a" stroke-width="1.2" />
<line x1="293.51" y1="908.81" x2="301.31" y2="908.81" stroke="#1a1a1a" stroke-width="1.2" />
<line x1="293.51" y1="948.35" x2="301.31" y2="948.35" stroke="#1a1a1a" stroke-width="1.2" />
<line x1="336.09" y1="873.20" x2="336.09" y2="876.42" stroke="#1a1a1a" stroke-width="1.2" />
<line x1="332.19" y1="873.20" x2="339.99" y2="873.20" stroke="#1a1a1a" stroke-width="1.2" />
<line x1="332.19" y1="876.42" x2="339.99" y2="876.42" stroke="#1a1a1a" stroke-width="1.2" />
<circle cx="258.74" cy="951.17" r="4.0" fill="rgb(170,42,220)" fill-opacity="0.7" stroke="#111" stroke-width="1"/>
<circle cx="297.41" cy="928.66" r="4.0" fill="rgb(170,42,220)" fill-opacity="0.7" stroke="#111" stroke-width="1"/>
<circle cx="336.09" cy="874.81" r="4.0" fill="rgb(170,42,220)" fill-opacity="0.7" stroke="#111" stroke-width="1"/>
<circle cx="374.77" cy="869.99" r="4.0" fill="rgb(170,42,220)" fill-opacity="0.7" stroke="#111" stroke-width="1"/>
<line x1="246.10" y1="809.90" x2="263.50" y2="809.90" stroke="#1a1a1a" stroke-width="1.2" />
<circle cx="254.80" cy="809.90" r="4.1" fill="rgb(170,42,220)" fill-opacity="0.7" stroke="#111" stroke-width="1"/>
<line x1="246.10" y1="832.30" x2="263.50" y2="832.30" stroke="#bbb" stroke-width="1" stroke-dasharray="2 2"/>
<circle cx="254.80" cy="832.30" r="4.3" fill="#d0d0d0" stroke="#a8a8a8" stroke-width="0.9"/>
<path d="M252.20,829.70 L257.40,834.90 M257.40,829.70 L252.20,834.90" stroke="#aaa" stroke-width="0.9"/>
<text x="273.40" y="813.70" font-size="11.2" text-anchor="start" >GQ20-PTO IC50: 0.4 &#181;M</text>
<text x="273.40" y="836.10" font-size="11.2" text-anchor="start" >GQ20-PTO IC50: 0.6 &#181;M</text>
<line x1="516.00" y1="828.60" x2="516.00" y2="991.00" stroke="#1a1a1a" stroke-width="1.2" />
<line x1="515.40" y1="990.40" x2="678.05" y2="990.40" stroke="#1a1a1a" stroke-width="1.2" />
<line x1="510.00" y1="829.20" x2="516.00" y2="829.20" stroke="#1a1a1a" stroke-width="1.2" />
<text x="507.90" y="833.30" font-size="11.3" text-anchor="end" >150</text>
<line x1="510.00" y1="869.50" x2="516.00" y2="869.50" stroke="#1a1a1a" stroke-width="1.2" />
<text x="507.90" y="873.60" font-size="11.3" text-anchor="end" >100</text>
<line x1="510.00" y1="909.80" x2="516.00" y2="909.80" stroke="#1a1a1a" stroke-width="1.2" />
<text x="507.90" y="913.90" font-size="11.3" text-anchor="end" >50</text>
<line x1="510.00" y1="950.10" x2="516.00" y2="950.10" stroke="#1a1a1a" stroke-width="1.2" />
<text x="507.90" y="954.20" font-size="11.3" text-anchor="end" >0</text>
<line x1="510.00" y1="990.40" x2="516.00" y2="990.40" stroke="#1a1a1a" stroke-width="1.2" />
<text x="507.90" y="994.50" font-size="11.3" text-anchor="end" >-50</text>
<line x1="516.00" y1="990.40" x2="516.00" y2="996.40" stroke="#1a1a1a" stroke-width="1.2" />
<text x="516.00" y="1008.60" font-size="11.3" text-anchor="middle" >-1.5</text>
<line x1="548.29" y1="990.40" x2="548.29" y2="996.40" stroke="#1a1a1a" stroke-width="1.2" />
<text x="548.29" y="1008.60" font-size="11.3" text-anchor="middle" >-1.0</text>
<line x1="580.58" y1="990.40" x2="580.58" y2="996.40" stroke="#1a1a1a" stroke-width="1.2" />
<text x="580.58" y="1008.60" font-size="11.3" text-anchor="middle" >-0.5</text>
<line x1="612.87" y1="990.40" x2="612.87" y2="996.40" stroke="#1a1a1a" stroke-width="1.2" />
<text x="612.87" y="1008.60" font-size="11.3" text-anchor="middle" >0.0</text>
<line x1="645.16" y1="990.40" x2="645.16" y2="996.40" stroke="#1a1a1a" stroke-width="1.2" />
<text x="645.16" y="1008.60" font-size="11.3" text-anchor="middle" >0.5</text>
<line x1="677.45" y1="990.40" x2="677.45" y2="996.40" stroke="#1a1a1a" stroke-width="1.2" />
<text x="677.45" y="1008.60" font-size="11.3" text-anchor="middle" >1.0</text>
<text x="596.73" y="1025.60" font-size="13.5" text-anchor="middle" >log concentration (&#181;M)</text>
<text x="482.10" y="910.50" font-size="13.6" text-anchor="middle" fill="#1a1a1a" transform="rotate(-90 482.10 910.50)">% of inhibition (<tspan fill="#8a1cc0">Omicron BA.5</tspan>/<tspan fill="#8c8c8c">VSV)</tspan></text>
<line x1="521.30" y1="950.10" x2="677.45" y2="950.10" stroke="#111" stroke-width="2.1" stroke-linecap="round" stroke-dasharray="0 4.85"/>
<polyline points="535.37,941.09 536.54,940.78 537.70,940.47 538.86,940.15 540.02,939.82 541.19,939.48 542.35,939.13 543.51,938.78 544.67,938.41 545.84,938.03 547.00,937.64 548.16,937.24 549.32,936.84 550.49,936.42 551.65,935.99 552.81,935.55 553.97,935.10 555.14,934.64 556.30,934.17 557.46,933.69 558.62,933.19 559.79,932.69 560.95,932.17 562.11,931.65 563.27,931.11 564.44,930.57 565.60,930.01 566.76,929.44 567.92,928.86 569.08,928.27 570.25,927.67 571.41,927.07 572.57,926.45 573.73,925.82 574.90,925.18 576.06,924.54 577.22,923.88 578.38,923.22 579.55,922.54 580.71,921.86 581.87,921.17 583.03,920.48 584.20,919.78 585.36,919.07 586.52,918.35 587.68,917.63 588.85,916.91 590.01,916.18 591.17,915.44 592.33,914.70 593.50,913.96 594.66,913.22 595.82,912.47 596.98,911.72 598.15,910.97 599.31,910.22 600.47,909.47 601.63,908.71 602.80,907.96 603.96,907.21 605.12,906.47 606.28,905.72 607.45,904.98 608.61,904.24 609.77,903.50 610.93,902.77 612.10,902.05 613.26,901.33 614.42,900.61 615.58,899.90 616.74,899.20 617.91,898.50 619.07,897.81 620.23,897.13 621.39,896.46 622.56,895.79 623.72,895.14 624.88,894.49 626.04,893.85 627.21,893.22 628.37,892.60 629.53,891.99 630.69,891.39 631.86,890.80 633.02,890.22 634.18,889.65 635.34,889.10 636.51,888.55 637.67,888.01 638.83,887.48 639.99,886.97 641.16,886.46 642.32,885.97 643.48,885.49 644.64,885.01 645.81,884.55 646.97,884.10 648.13,883.66 649.29,883.23 650.46,882.81 651.62,882.40" fill="none" stroke="#b0b0b0" stroke-width="1" stroke-dasharray="3 2"/>
<line x1="535.37" y1="913.19" x2="535.37" y2="950.10" stroke="#bdbdbd" stroke-width="1.1" />
<line x1="531.47" y1="913.19" x2="539.27" y2="913.19" stroke="#bdbdbd" stroke-width="1.1" />
<line x1="531.47" y1="950.10" x2="539.27" y2="950.10" stroke="#bdbdbd" stroke-width="1.1" />
<line x1="574.12" y1="915.44" x2="574.12" y2="937.20" stroke="#bdbdbd" stroke-width="1.1" />
<line x1="570.22" y1="915.44" x2="578.02" y2="915.44" stroke="#bdbdbd" stroke-width="1.1" />
<line x1="570.22" y1="937.20" x2="578.02" y2="937.20" stroke="#bdbdbd" stroke-width="1.1" />
<line x1="612.87" y1="899.32" x2="612.87" y2="925.11" stroke="#bdbdbd" stroke-width="1.1" />
<line x1="608.97" y1="899.32" x2="616.77" y2="899.32" stroke="#bdbdbd" stroke-width="1.1" />
<line x1="608.97" y1="925.11" x2="616.77" y2="925.11" stroke="#bdbdbd" stroke-width="1.1" />
<circle cx="535.37" cy="930.35" r="4.3" fill="#d0d0d0" stroke="#a8a8a8" stroke-width="0.9"/>
<path d="M532.77,927.75 L537.97,932.95 M537.97,927.75 L532.77,932.95" stroke="#aaa" stroke-width="0.9"/>
<circle cx="574.12" cy="926.24" r="4.3" fill="#d0d0d0" stroke="#a8a8a8" stroke-width="0.9"/>
<path d="M571.52,923.64 L576.72,928.84 M576.72,923.64 L571.52,928.84" stroke="#aaa" stroke-width="0.9"/>
<circle cx="612.87" cy="912.22" r="4.3" fill="#d0d0d0" stroke="#a8a8a8" stroke-width="0.9"/>
<path d="M610.27,909.62 L615.47,914.82 M615.47,909.62 L610.27,914.82" stroke="#aaa" stroke-width="0.9"/>
<polyline points="535.37,950.01 536.15,950.01 536.92,950.00 537.70,949.99 538.47,949.98 539.25,949.96 540.02,949.95 540.80,949.94 541.57,949.92 542.35,949.90 543.12,949.89 543.90,949.87 544.67,949.84 545.45,949.82 546.22,949.79 547.00,949.76 547.77,949.73 548.55,949.70 549.32,949.66 550.10,949.61 550.87,949.57 551.65,949.52 552.42,949.46 553.20,949.40 553.97,949.34 554.75,949.26 555.52,949.19 556.30,949.10 557.07,949.01 557.85,948.90 558.62,948.79 559.40,948.67 560.17,948.53 560.95,948.39 561.72,948.23 562.50,948.05 563.27,947.86 564.05,947.66 564.82,947.43 565.60,947.18 566.37,946.92 567.15,946.63 567.92,946.31 568.70,945.97 569.47,945.59 570.25,945.19 571.02,944.75 571.80,944.28 572.57,943.77 573.35,943.21 574.12,942.62 574.90,941.98 575.67,941.28 576.45,940.54 577.22,939.75 578.00,938.90 578.77,937.99 579.55,937.02 580.32,935.99 581.10,934.90 581.87,933.74 582.65,932.52 583.42,931.23 584.20,929.88 584.97,928.47 585.75,927.00 586.52,925.47 587.30,923.88 588.07,922.24 588.85,920.56 589.62,918.83 590.40,917.07 591.17,915.28 591.95,913.46 592.72,911.64 593.50,909.80 594.27,907.96 595.05,906.14 595.82,904.32 596.60,902.53 597.37,900.77 598.15,899.04 598.92,897.36 599.70,895.72 600.47,894.13 601.25,892.60 602.02,891.13 602.80,889.72 603.57,888.37 604.35,887.08 605.12,885.86 605.90,884.70 606.67,883.61 607.45,882.58 608.22,881.61 609.00,880.70 609.77,879.85 610.55,879.06 611.32,878.32 612.10,877.62 612.87,876.98 613.64,876.39 614.42,875.83 615.19,875.32 615.97,874.85 616.74,874.41 617.52,874.01 618.29,873.63 619.07,873.29 619.84,872.97 620.62,872.68 621.39,872.42 622.17,872.17 622.94,871.94 623.72,871.74 624.49,871.55 625.27,871.37 626.04,871.21 626.82,871.07 627.59,870.93 628.37,870.81 629.14,870.70 629.92,870.59 630.69,870.50 631.47,870.41 632.24,870.34 633.02,870.26 633.79,870.20 634.57,870.14 635.34,870.08 636.12,870.03 636.89,869.99 637.67,869.94 638.44,869.90 639.22,869.87 639.99,869.84 640.77,869.81 641.54,869.78 642.32,869.76 643.09,869.73 643.87,869.71 644.64,869.70 645.42,869.68 646.19,869.66 646.97,869.65 647.74,869.64 648.52,869.62 649.29,869.61 650.07,869.60 650.84,869.59 651.62,869.59" fill="none" stroke="#1a1a1a" stroke-width="1.3"/>
<line x1="535.37" y1="946.07" x2="535.37" y2="970.25" stroke="#1a1a1a" stroke-width="1.2" />
<line x1="531.47" y1="946.07" x2="539.27" y2="946.07" stroke="#1a1a1a" stroke-width="1.2" />
<line x1="531.47" y1="970.25" x2="539.27" y2="970.25" stroke="#1a1a1a" stroke-width="1.2" />
<line x1="574.12" y1="933.98" x2="574.12" y2="947.92" stroke="#1a1a1a" stroke-width="1.2" />
<line x1="570.22" y1="933.98" x2="578.02" y2="933.98" stroke="#1a1a1a" stroke-width="1.2" />
<line x1="570.22" y1="947.92" x2="578.02" y2="947.92" stroke="#1a1a1a" stroke-width="1.2" />
<line x1="612.87" y1="873.53" x2="612.87" y2="876.75" stroke="#1a1a1a" stroke-width="1.2" />
<line x1="608.97" y1="873.53" x2="616.77" y2="873.53" stroke="#1a1a1a" stroke-width="1.2" />
<line x1="608.97" y1="876.75" x2="616.77" y2="876.75" stroke="#1a1a1a" stroke-width="1.2" />
<circle cx="535.37" cy="958.16" r="4.0" fill="rgb(170,42,220)" fill-opacity="0.7" stroke="#111" stroke-width="1"/>
<circle cx="574.12" cy="940.67" r="4.0" fill="rgb(170,42,220)" fill-opacity="0.7" stroke="#111" stroke-width="1"/>
<circle cx="612.87" cy="875.14" r="4.0" fill="rgb(170,42,220)" fill-opacity="0.7" stroke="#111" stroke-width="1"/>
<circle cx="651.62" cy="869.50" r="4.0" fill="rgb(170,42,220)" fill-opacity="0.7" stroke="#111" stroke-width="1"/>
<line x1="522.70" y1="808.90" x2="540.10" y2="808.90" stroke="#1a1a1a" stroke-width="1.2" />
<circle cx="531.40" cy="808.90" r="4.1" fill="rgb(170,42,220)" fill-opacity="0.7" stroke="#111" stroke-width="1"/>
<line x1="522.70" y1="831.90" x2="540.10" y2="831.90" stroke="#bbb" stroke-width="1" stroke-dasharray="2 2"/>
<circle cx="531.40" cy="831.90" r="4.3" fill="#d0d0d0" stroke="#a8a8a8" stroke-width="0.9"/>
<path d="M528.80,829.30 L534.00,834.50 M534.00,829.30 L528.80,834.50" stroke="#aaa" stroke-width="0.9"/>
<text x="550.00" y="812.70" font-size="11.2" text-anchor="start" >GQ20-PTO IC50: 0.5 &#181;M</text>
<text x="550.00" y="835.70" font-size="11.2" text-anchor="start" >GQ20-PTO IC50: 0.6 &#181;M</text>
</svg></body></html>
